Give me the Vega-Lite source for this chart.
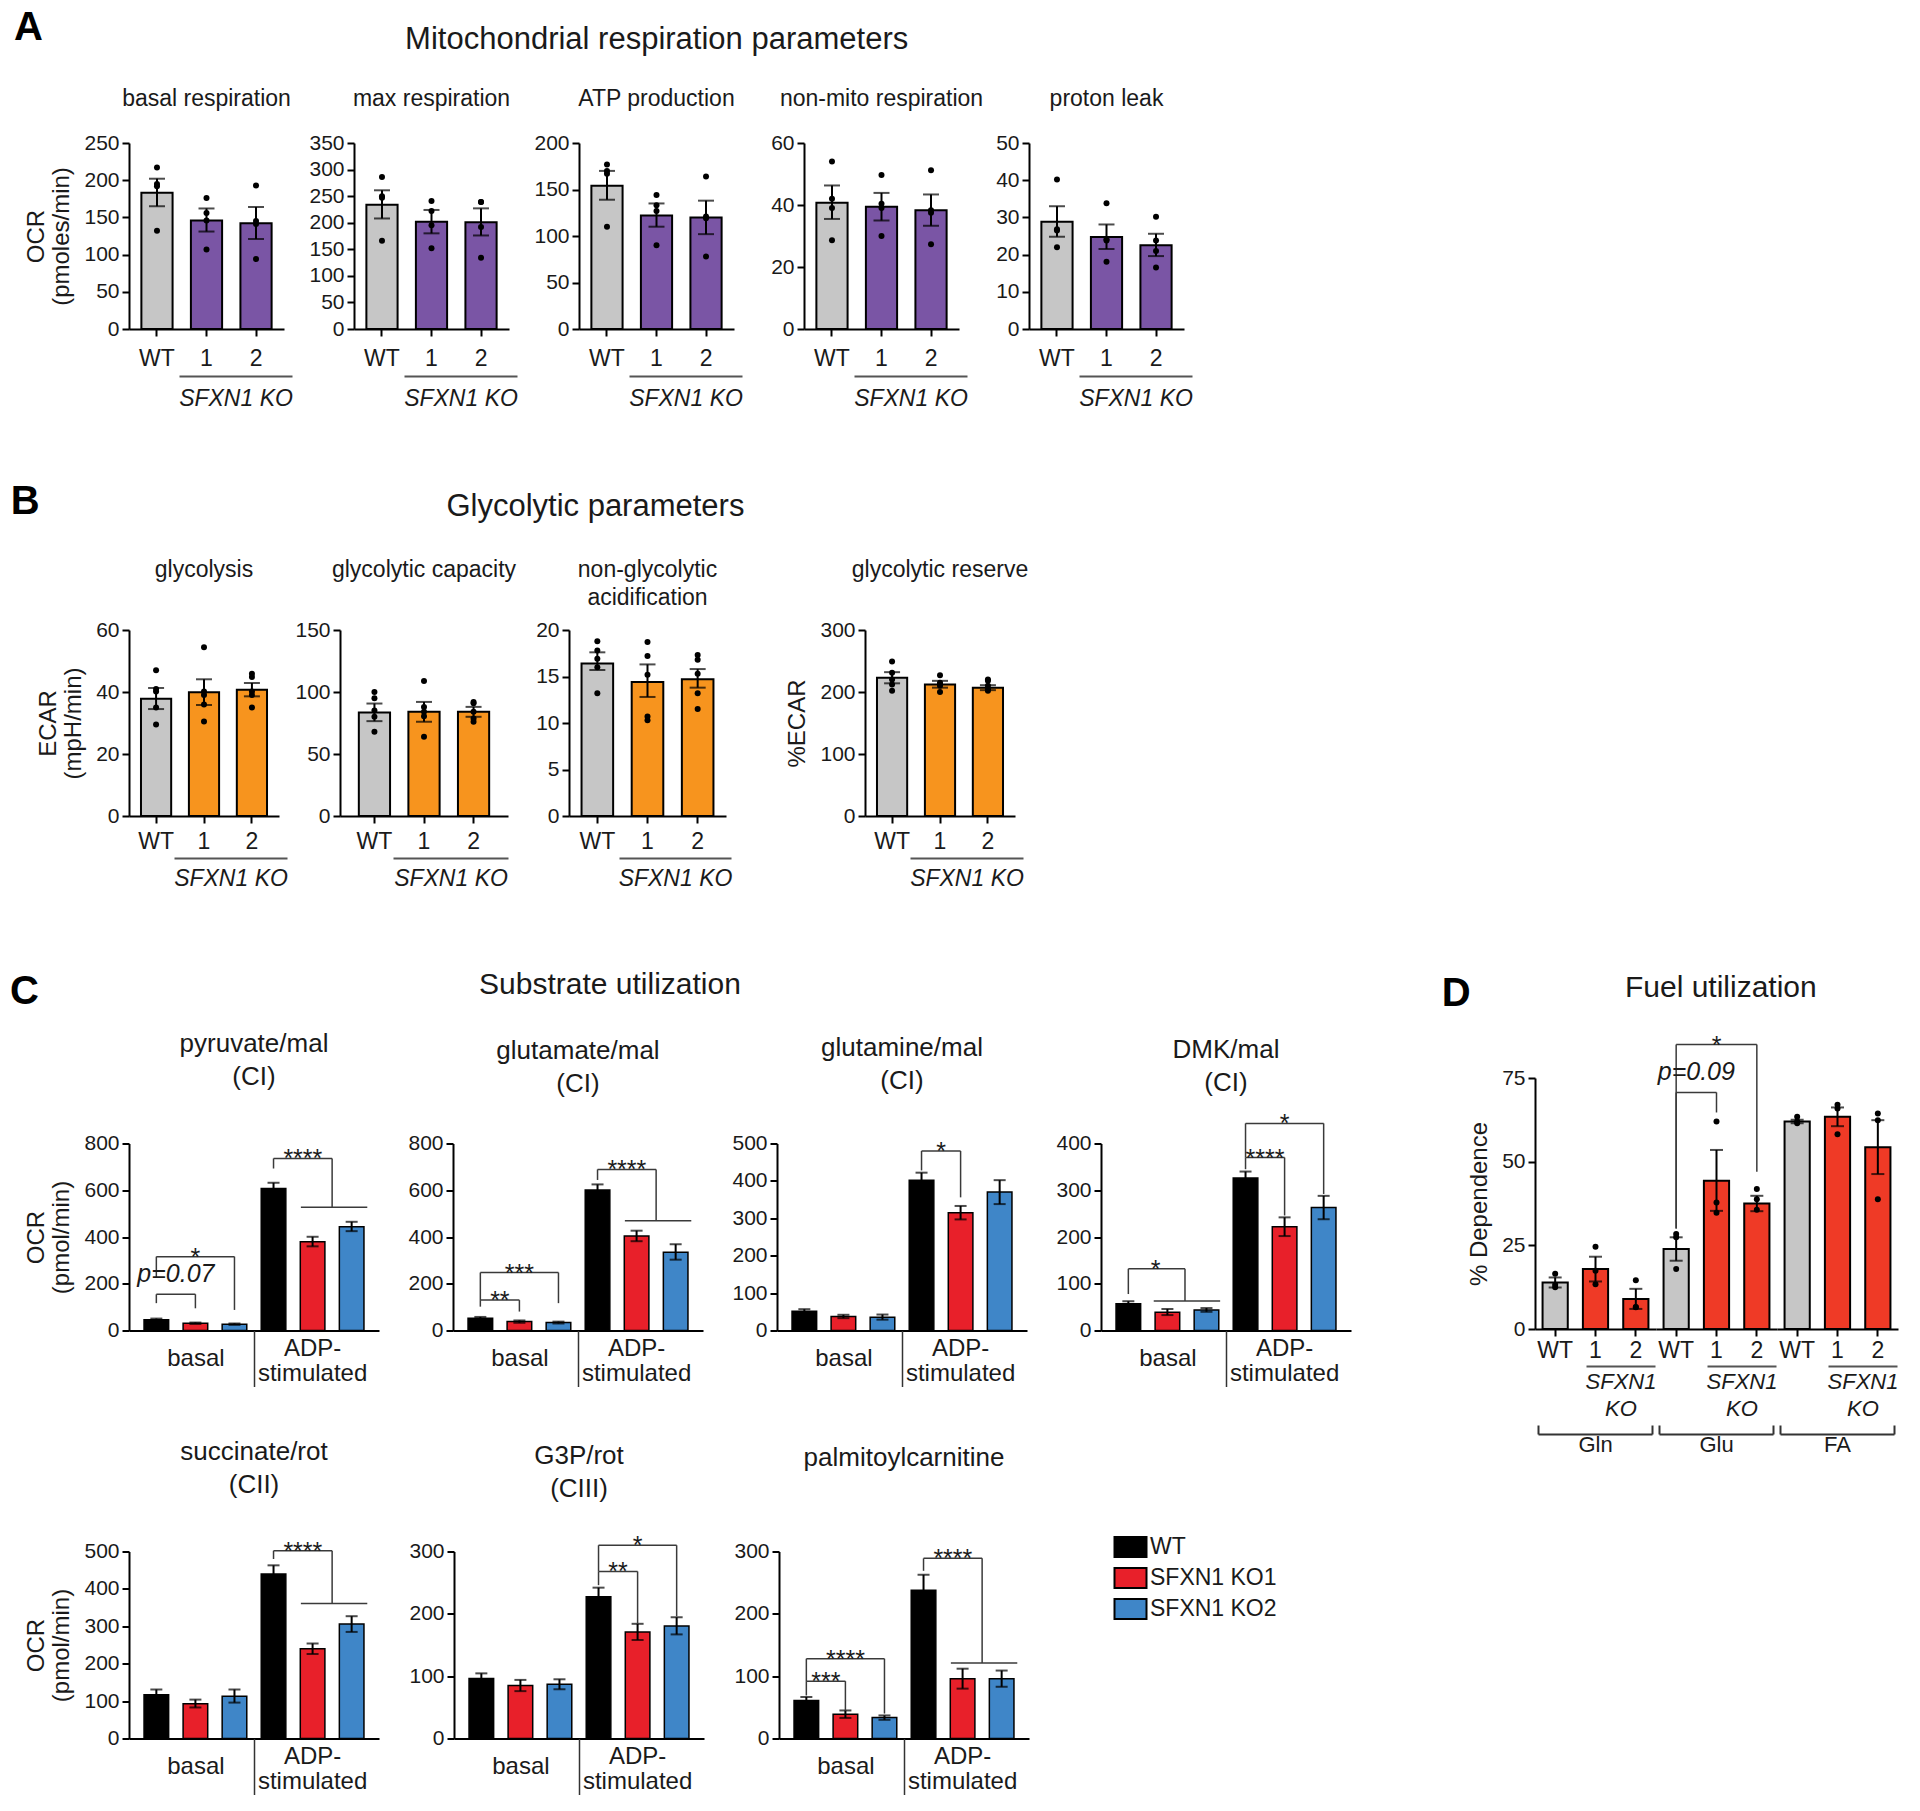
{
"$schema": "https://vega.github.io/schema/vega-lite/v6.json",
"background": "white",
"padding": {"left": 9, "top": 8, "right": 5, "bottom": 5},
"datasets": {
"bars": [
{"p":"A1","g":"WT","m":183,"lo":165,"hi":202},{"p":"A1","g":"1","m":146,"lo":131,"hi":162},{"p":"A1","g":"2","m":142,"lo":121,"hi":164},
{"p":"A2","g":"WT","m":234,"lo":208,"hi":261},{"p":"A2","g":"1","m":202,"lo":180,"hi":224},{"p":"A2","g":"2","m":201,"lo":176,"hi":227},
{"p":"A3","g":"WT","m":154,"lo":139,"hi":170},{"p":"A3","g":"1","m":122,"lo":110,"hi":135},{"p":"A3","g":"2","m":120,"lo":102,"hi":138},
{"p":"A4","g":"WT","m":40.7,"lo":35.5,"hi":46.3},{"p":"A4","g":"1","m":39.4,"lo":35,"hi":43.9},{"p":"A4","g":"2","m":38.3,"lo":33.3,"hi":43.4},
{"p":"A5","g":"WT","m":28.8,"lo":24.8,"hi":33},{"p":"A5","g":"1","m":24.7,"lo":21.5,"hi":28.1},{"p":"A5","g":"2","m":22.5,"lo":19.6,"hi":25.6},
{"p":"B1","g":"WT","m":37.8,"lo":34.5,"hi":41.3},{"p":"B1","g":"1","m":39.9,"lo":35.8,"hi":44.1},{"p":"B1","g":"2","m":40.7,"lo":38.6,"hi":42.9},
{"p":"B2","g":"WT","m":83.5,"lo":76.5,"hi":90.7},{"p":"B2","g":"1","m":84,"lo":76,"hi":92},{"p":"B2","g":"2","m":84,"lo":80,"hi":88},
{"p":"B3","g":"WT","m":16.4,"lo":15.7,"hi":17.6},{"p":"B3","g":"1","m":14.4,"lo":12.8,"hi":16.3},{"p":"B3","g":"2","m":14.7,"lo":13.8,"hi":15.8},
{"p":"B4","g":"WT","m":223,"lo":214,"hi":232},{"p":"B4","g":"1","m":212,"lo":207,"hi":218},{"p":"B4","g":"2","m":207,"lo":203,"hi":211},
{"p":"Gln","g":"WT","m":13.9,"lo":12.4,"hi":15.4},{"p":"Gln","g":"1","m":17.9,"lo":14.2,"hi":21.6},{"p":"Gln","g":"2","m":9,"lo":6,"hi":12},
{"p":"Glu","g":"WT","m":23.9,"lo":20.4,"hi":27.4},{"p":"Glu","g":"1","m":44.3,"lo":35.3,"hi":53.5},{"p":"Glu","g":"2","m":37.5,"lo":35.2,"hi":39.8},
{"p":"FA","g":"WT","m":62,"lo":61.5,"hi":62.5},{"p":"FA","g":"1","m":63.4,"lo":60.6,"hi":66.2},{"p":"FA","g":"2","m":54.3,"lo":46.3,"hi":62.4}
],
"pts": [
{"p":"A1","g":"WT","v":217},{"p":"A1","g":"WT","v":195},{"p":"A1","g":"WT","v":192},{"p":"A1","g":"WT","v":132},
{"p":"A1","g":"1","v":176},{"p":"A1","g":"1","v":156},{"p":"A1","g":"1","v":146},{"p":"A1","g":"1","v":107},
{"p":"A1","g":"2","v":193},{"p":"A1","g":"2","v":145},{"p":"A1","g":"2","v":141},{"p":"A1","g":"2","v":94},
{"p":"A2","g":"WT","v":286},{"p":"A2","g":"WT","v":250},{"p":"A2","g":"WT","v":247},{"p":"A2","g":"WT","v":166},
{"p":"A2","g":"1","v":241},{"p":"A2","g":"1","v":222},{"p":"A2","g":"1","v":195},{"p":"A2","g":"1","v":152},
{"p":"A2","g":"2","v":239},{"p":"A2","g":"2","v":239},{"p":"A2","g":"2","v":192},{"p":"A2","g":"2","v":134},
{"p":"A3","g":"WT","v":177},{"p":"A3","g":"WT","v":170},{"p":"A3","g":"WT","v":167},{"p":"A3","g":"WT","v":110},
{"p":"A3","g":"1","v":144},{"p":"A3","g":"1","v":133},{"p":"A3","g":"1","v":127},{"p":"A3","g":"1","v":90},
{"p":"A3","g":"2","v":164},{"p":"A3","g":"2","v":121},{"p":"A3","g":"2","v":119},{"p":"A3","g":"2","v":78},
{"p":"A4","g":"WT","v":54},{"p":"A4","g":"WT","v":42},{"p":"A4","g":"WT","v":39},{"p":"A4","g":"WT","v":28.6},
{"p":"A4","g":"1","v":49.7},{"p":"A4","g":"1","v":40.4},{"p":"A4","g":"1","v":39},{"p":"A4","g":"1","v":30},
{"p":"A4","g":"2","v":51.2},{"p":"A4","g":"2","v":38.3},{"p":"A4","g":"2","v":37.5},{"p":"A4","g":"2","v":27.3},
{"p":"A5","g":"WT","v":40.2},{"p":"A5","g":"WT","v":26.8},{"p":"A5","g":"WT","v":26.5},{"p":"A5","g":"WT","v":22},
{"p":"A5","g":"1","v":33.8},{"p":"A5","g":"1","v":24.1},{"p":"A5","g":"1","v":23.8},{"p":"A5","g":"1","v":18.1},
{"p":"A5","g":"2","v":30.2},{"p":"A5","g":"2","v":23.8},{"p":"A5","g":"2","v":21},{"p":"A5","g":"2","v":16.5},
{"p":"B1","g":"WT","v":47},{"p":"B1","g":"WT","v":41},{"p":"B1","g":"WT","v":40.2},{"p":"B1","g":"WT","v":35},{"p":"B1","g":"WT","v":29.5},
{"p":"B1","g":"1","v":54.4},{"p":"B1","g":"1","v":40.2},{"p":"B1","g":"1","v":39},{"p":"B1","g":"1","v":36},{"p":"B1","g":"1","v":30.5},
{"p":"B1","g":"2","v":45.9},{"p":"B1","g":"2","v":44.8},{"p":"B1","g":"2","v":40.2},{"p":"B1","g":"2","v":39},{"p":"B1","g":"2","v":35},
{"p":"B2","g":"WT","v":100},{"p":"B2","g":"WT","v":95},{"p":"B2","g":"WT","v":85},{"p":"B2","g":"WT","v":80},{"p":"B2","g":"WT","v":68},
{"p":"B2","g":"1","v":108.8},{"p":"B2","g":"1","v":88},{"p":"B2","g":"1","v":84},{"p":"B2","g":"1","v":80.5},{"p":"B2","g":"1","v":64},
{"p":"B2","g":"2","v":92},{"p":"B2","g":"2","v":91},{"p":"B2","g":"2","v":84},{"p":"B2","g":"2","v":78.7},{"p":"B2","g":"2","v":76},
{"p":"B3","g":"WT","v":18.8},{"p":"B3","g":"WT","v":17.8},{"p":"B3","g":"WT","v":16.9},{"p":"B3","g":"WT","v":16},{"p":"B3","g":"WT","v":13.2},
{"p":"B3","g":"1","v":18.7},{"p":"B3","g":"1","v":17.2},{"p":"B3","g":"1","v":15.2},{"p":"B3","g":"1","v":10.7},{"p":"B3","g":"1","v":10.3},
{"p":"B3","g":"2","v":17.3},{"p":"B3","g":"2","v":16.8},{"p":"B3","g":"2","v":15.3},{"p":"B3","g":"2","v":13.2},{"p":"B3","g":"2","v":11.5},
{"p":"B4","g":"WT","v":249},{"p":"B4","g":"WT","v":231},{"p":"B4","g":"WT","v":220},{"p":"B4","g":"WT","v":212},{"p":"B4","g":"WT","v":202},
{"p":"B4","g":"1","v":227},{"p":"B4","g":"1","v":215},{"p":"B4","g":"1","v":212},{"p":"B4","g":"1","v":210},{"p":"B4","g":"1","v":200},
{"p":"B4","g":"2","v":220},{"p":"B4","g":"2","v":218},{"p":"B4","g":"2","v":210},{"p":"B4","g":"2","v":204},{"p":"B4","g":"2","v":202},
{"p":"Gln","g":"WT","v":16.5},{"p":"Gln","g":"WT","v":13.2},{"p":"Gln","g":"WT","v":12.5},
{"p":"Gln","g":"1","v":24.6},{"p":"Gln","g":"1","v":17.4},{"p":"Gln","g":"1","v":13.4},
{"p":"Gln","g":"2","v":14.6},{"p":"Gln","g":"2","v":6.5},{"p":"Gln","g":"2","v":6.6},
{"p":"Glu","g":"WT","v":28.4},{"p":"Glu","g":"WT","v":27.4},{"p":"Glu","g":"WT","v":17.9},
{"p":"Glu","g":"1","v":62},{"p":"Glu","g":"1","v":37.8},{"p":"Glu","g":"1","v":34.7},
{"p":"Glu","g":"2","v":41.8},{"p":"Glu","g":"2","v":38.8},{"p":"Glu","g":"2","v":35.6},
{"p":"FA","g":"WT","v":63.4},{"p":"FA","g":"WT","v":62},{"p":"FA","g":"WT","v":61.5},
{"p":"FA","g":"1","v":67},{"p":"FA","g":"1","v":65.9},{"p":"FA","g":"1","v":58.2},
{"p":"FA","g":"2","v":64.4},{"p":"FA","g":"2","v":62.4},{"p":"FA","g":"2","v":38.8}
],
"cbars": [
{"p":"C1","c":"basal","g":"WT","m":45.5,"lo":41,"hi":51},{"p":"C1","c":"basal","g":"SFXN1 KO1","m":31,"lo":28,"hi":34},{"p":"C1","c":"basal","g":"SFXN1 KO2","m":27,"lo":24,"hi":30},
{"p":"C1","c":"ADP","g":"WT","m":608,"lo":585,"hi":632},{"p":"C1","c":"ADP","g":"SFXN1 KO1","m":380,"lo":360,"hi":401},{"p":"C1","c":"ADP","g":"SFXN1 KO2","m":444,"lo":425,"hi":465},
{"p":"C2","c":"basal","g":"WT","m":52.7,"lo":47,"hi":58},{"p":"C2","c":"basal","g":"SFXN1 KO1","m":38,"lo":33,"hi":43},{"p":"C2","c":"basal","g":"SFXN1 KO2","m":34,"lo":30,"hi":38},
{"p":"C2","c":"ADP","g":"WT","m":601,"lo":577,"hi":625},{"p":"C2","c":"ADP","g":"SFXN1 KO1","m":404,"lo":382,"hi":427},{"p":"C2","c":"ADP","g":"SFXN1 KO2","m":335,"lo":303,"hi":369},
{"p":"C3","c":"basal","g":"WT","m":51.6,"lo":46,"hi":57},{"p":"C3","c":"basal","g":"SFXN1 KO1","m":37.4,"lo":33,"hi":42},{"p":"C3","c":"basal","g":"SFXN1 KO2","m":35.6,"lo":29,"hi":42.7},
{"p":"C3","c":"ADP","g":"WT","m":402,"lo":382,"hi":422},{"p":"C3","c":"ADP","g":"SFXN1 KO1","m":315,"lo":297,"hi":333},{"p":"C3","c":"ADP","g":"SFXN1 KO2","m":370,"lo":338,"hi":402},
{"p":"C4","c":"basal","g":"WT","m":57,"lo":52,"hi":62.6},{"p":"C4","c":"basal","g":"SFXN1 KO1","m":39,"lo":33,"hi":46},{"p":"C4","c":"basal","g":"SFXN1 KO2","m":44,"lo":40,"hi":48},
{"p":"C4","c":"ADP","g":"WT","m":326,"lo":312,"hi":340},{"p":"C4","c":"ADP","g":"SFXN1 KO1","m":222,"lo":202,"hi":242},{"p":"C4","c":"ADP","g":"SFXN1 KO2","m":263,"lo":238,"hi":288},
{"p":"C5","c":"basal","g":"WT","m":117,"lo":104,"hi":131},{"p":"C5","c":"basal","g":"SFXN1 KO1","m":93,"lo":83,"hi":104},{"p":"C5","c":"basal","g":"SFXN1 KO2","m":113,"lo":96,"hi":131},
{"p":"C5","c":"ADP","g":"WT","m":440,"lo":417,"hi":463},{"p":"C5","c":"ADP","g":"SFXN1 KO1","m":240,"lo":226,"hi":254},{"p":"C5","c":"ADP","g":"SFXN1 KO2","m":306,"lo":285,"hi":327},
{"p":"C6","c":"basal","g":"WT","m":96.4,"lo":88,"hi":104.5},{"p":"C6","c":"basal","g":"SFXN1 KO1","m":85,"lo":76,"hi":94},{"p":"C6","c":"basal","g":"SFXN1 KO2","m":87,"lo":79,"hi":95},
{"p":"C6","c":"ADP","g":"WT","m":227.6,"lo":213,"hi":242},{"p":"C6","c":"ADP","g":"SFXN1 KO1","m":171,"lo":158,"hi":184},{"p":"C6","c":"ADP","g":"SFXN1 KO2","m":180.5,"lo":167,"hi":194.5},
{"p":"C7","c":"basal","g":"WT","m":61,"lo":56,"hi":66.6},{"p":"C7","c":"basal","g":"SFXN1 KO1","m":39,"lo":33,"hi":45},{"p":"C7","c":"basal","g":"SFXN1 KO2","m":33.6,"lo":30,"hi":37},
{"p":"C7","c":"ADP","g":"WT","m":238,"lo":214,"hi":262.7},{"p":"C7","c":"ADP","g":"SFXN1 KO1","m":96,"lo":80,"hi":112},{"p":"C7","c":"ADP","g":"SFXN1 KO2","m":96,"lo":83,"hi":109}
],
"brk": [
{"p":"C1","x1":3.5,"x2":5.0,"xm":4.25,"top":736,"lo1":693,"lo2":527,"lab":"****"},
{"p":"C1","x1":0.5,"x2":2.5,"xm":1.5,"top":316,"lo1":228,"lo2":88,"lab":"*"},
{"p":"C1","x1":0.5,"x2":1.5,"xm":1.0,"top":155,"lo1":117,"lo2":95,"lab":"p=0.07"},
{"p":"C2","x1":3.5,"x2":5.0,"xm":4.25,"top":689,"lo1":644,"lo2":470,"lab":"****"},
{"p":"C2","x1":0.5,"x2":2.5,"xm":1.5,"top":248,"lo1":130,"lo2":117,"lab":"***"},
{"p":"C2","x1":0.5,"x2":1.5,"xm":1.0,"top":130,"lo1":102,"lo2":81,"lab":"**"},
{"p":"C3","x1":3.5,"x2":4.5,"xm":4.0,"top":480,"lo1":428,"lo2":356,"lab":"*"},
{"p":"C4","x1":3.5,"x2":5.5,"xm":4.5,"top":443,"lo1":370,"lo2":292,"lab":"*"},
{"p":"C4","x1":3.5,"x2":4.5,"xm":4.0,"top":370,"lo1":345,"lo2":246,"lab":"****"},
{"p":"C4","x1":0.5,"x2":1.95,"xm":1.2,"top":132,"lo1":78,"lo2":63,"lab":"*"},
{"p":"C5","x1":3.5,"x2":5.0,"xm":4.25,"top":502,"lo1":480,"lo2":361,"lab":"****"},
{"p":"C6","x1":3.5,"x2":5.5,"xm":4.5,"top":310,"lo1":268,"lo2":196,"lab":"*"},
{"p":"C6","x1":3.5,"x2":4.5,"xm":4.0,"top":268,"lo1":246,"lo2":185,"lab":"**"},
{"p":"C7","x1":3.5,"x2":5.0,"xm":4.25,"top":289,"lo1":269,"lo2":121,"lab":"****"},
{"p":"C7","x1":0.5,"x2":2.5,"xm":1.5,"top":128,"lo1":92,"lo2":40,"lab":"****"},
{"p":"C7","x1":0.5,"x2":1.5,"xm":1.0,"top":92,"lo1":69,"lo2":45,"lab":"***"},
{"p":"Glu","x1":0.5,"x2":2.5,"xm":1.5,"top":85,"lo1":30,"lo2":47,"lab":"*"},
{"p":"Glu","x1":0.5,"x2":1.5,"xm":1.0,"top":70.7,"lo1":30,"lo2":64.7,"lab":"p=0.09"}
],
"gl": [
{"p":"C1","x1":4.2,"x2":5.9,"y":527},
{"p":"C2","x1":4.2,"x2":5.9,"y":470},
{"p":"C4","x1":1.15,"x2":2.85,"y":63},
{"p":"C5","x1":4.2,"x2":5.9,"y":361},
{"p":"C7","x1":4.2,"x2":5.9,"y":121}
],
"ko": [{"k":"SFXN1 KO"}],
"fuel": [{"f":"Gln"},{"f":"Glu"},{"f":"FA"}]
},
"spacing": 90,
"hconcat": [
{"spacing": 79.5, "vconcat": [
{"spacing": 72, "vconcat": [
{
"title": {"text":"A","anchor":"start","frame":"bounds","fontSize":40,"fontWeight":"bold","color":"#000","offset":-24.5,"dx":-11},
"vconcat": [{
"title": {"text":"Mitochondrial respiration parameters","anchor":"middle","frame":"bounds","fontSize":31,"offset":32,"dx":48},
"bounds": "flush", "spacing": 70,
"hconcat": [
{"width":155,"height":186,"title":{"text":"basal respiration","offset":21.5},"resolve":{"scale":{"x":"independent"}},"layer":[
 {"encoding":{"x":{"field":"g","type":"nominal","sort":["WT","1","2"],"scale":{"paddingInner":0.37,"paddingOuter":0.25},"axis":{"title":null,"labelPadding":11}}},
  "layer":[
   {"data":{"name":"bars"},"transform":[{"filter":"datum.p == 'A1'"}],"mark":{"type":"bar"},"encoding":{"y":{"field":"m","type":"quantitative","scale":{"domain":[0,250],"nice":false},"axis":{"values":[0,50,100,150,200,250],"title":["OCR","(pmoles/min)"]}},"fill":{"condition":{"test":"datum.g == 'WT'","value":"#c6c6c6"},"value":"#7a55a5"}}},
   {"data":{"name":"bars"},"transform":[{"filter":"datum.p == 'A1'"}],"mark":{"type":"rule","color":"#000","strokeWidth":2},"encoding":{"y":{"field":"lo","type":"quantitative","axis":{"values":[0,50,100,150,200,250],"title":["OCR","(pmoles/min)"]}},"y2":{"field":"hi"}}},
   {"data":{"name":"bars"},"transform":[{"filter":"datum.p == 'A1'"}],"mark":{"type":"tick","color":"#000","size":16,"thickness":2},"encoding":{"y":{"field":"hi","type":"quantitative","axis":{"values":[0,50,100,150,200,250],"title":["OCR","(pmoles/min)"]}}}},
   {"data":{"name":"bars"},"transform":[{"filter":"datum.p == 'A1'"}],"mark":{"type":"tick","color":"#000","size":16,"thickness":2},"encoding":{"y":{"field":"lo","type":"quantitative","axis":{"values":[0,50,100,150,200,250],"title":["OCR","(pmoles/min)"]}}}},
   {"data":{"name":"pts"},"transform":[{"filter":"datum.p == 'A1'"}],"mark":{"type":"circle","size":36,"color":"#000","opacity":1},"encoding":{"y":{"field":"v","type":"quantitative","axis":{"values":[0,50,100,150,200,250],"title":["OCR","(pmoles/min)"]}}}}
  ]},
 {"data":{"name":"ko"},"mark":{"type":"point","opacity":0,"size":1},"encoding":{"y":{"datum":0,"type":"quantitative","axis":{"values":[0,50,100,150,200,250],"title":["OCR","(pmoles/min)"]}},"x":{"field":"k","type":"nominal","scale":{"range":[50,163],"paddingInner":0,"paddingOuter":0},"axis":{"orient":"bottom","offset":47,"ticks":false,"domainColor":"#555","domainWidth":2,"labelFontStyle":"italic","labelPadding":11,"title":null}}}}
]},
{"width":155,"height":186,"title":{"text":"max respiration","offset":21.5},"resolve":{"scale":{"x":"independent"}},"layer":[
 {"encoding":{"x":{"field":"g","type":"nominal","sort":["WT","1","2"],"scale":{"paddingInner":0.37,"paddingOuter":0.25},"axis":{"title":null,"labelPadding":11}}},
  "layer":[
   {"data":{"name":"bars"},"transform":[{"filter":"datum.p == 'A2'"}],"mark":{"type":"bar"},"encoding":{"y":{"field":"m","type":"quantitative","scale":{"domain":[0,350],"nice":false},"axis":{"values":[0,50,100,150,200,250,300,350],"title":null}},"fill":{"condition":{"test":"datum.g == 'WT'","value":"#c6c6c6"},"value":"#7a55a5"}}},
   {"data":{"name":"bars"},"transform":[{"filter":"datum.p == 'A2'"}],"mark":{"type":"rule","color":"#000","strokeWidth":2},"encoding":{"y":{"field":"lo","type":"quantitative","axis":{"values":[0,50,100,150,200,250,300,350],"title":null}},"y2":{"field":"hi"}}},
   {"data":{"name":"bars"},"transform":[{"filter":"datum.p == 'A2'"}],"mark":{"type":"tick","color":"#000","size":16,"thickness":2},"encoding":{"y":{"field":"hi","type":"quantitative","axis":{"values":[0,50,100,150,200,250,300,350],"title":null}}}},
   {"data":{"name":"bars"},"transform":[{"filter":"datum.p == 'A2'"}],"mark":{"type":"tick","color":"#000","size":16,"thickness":2},"encoding":{"y":{"field":"lo","type":"quantitative","axis":{"values":[0,50,100,150,200,250,300,350],"title":null}}}},
   {"data":{"name":"pts"},"transform":[{"filter":"datum.p == 'A2'"}],"mark":{"type":"circle","size":36,"color":"#000","opacity":1},"encoding":{"y":{"field":"v","type":"quantitative","axis":{"values":[0,50,100,150,200,250,300,350],"title":null}}}}
  ]},
 {"data":{"name":"ko"},"mark":{"type":"point","opacity":0,"size":1},"encoding":{"y":{"datum":0,"type":"quantitative","axis":{"values":[0,50,100,150,200,250,300,350],"title":null}},"x":{"field":"k","type":"nominal","scale":{"range":[50,163],"paddingInner":0,"paddingOuter":0},"axis":{"orient":"bottom","offset":47,"ticks":false,"domainColor":"#555","domainWidth":2,"labelFontStyle":"italic","labelPadding":11,"title":null}}}}
]},
{"width":155,"height":186,"title":{"text":"ATP production","offset":21.5},"resolve":{"scale":{"x":"independent"}},"layer":[
 {"encoding":{"x":{"field":"g","type":"nominal","sort":["WT","1","2"],"scale":{"paddingInner":0.37,"paddingOuter":0.25},"axis":{"title":null,"labelPadding":11}}},
  "layer":[
   {"data":{"name":"bars"},"transform":[{"filter":"datum.p == 'A3'"}],"mark":{"type":"bar"},"encoding":{"y":{"field":"m","type":"quantitative","scale":{"domain":[0,200],"nice":false},"axis":{"values":[0,50,100,150,200],"title":null}},"fill":{"condition":{"test":"datum.g == 'WT'","value":"#c6c6c6"},"value":"#7a55a5"}}},
   {"data":{"name":"bars"},"transform":[{"filter":"datum.p == 'A3'"}],"mark":{"type":"rule","color":"#000","strokeWidth":2},"encoding":{"y":{"field":"lo","type":"quantitative","axis":{"values":[0,50,100,150,200],"title":null}},"y2":{"field":"hi"}}},
   {"data":{"name":"bars"},"transform":[{"filter":"datum.p == 'A3'"}],"mark":{"type":"tick","color":"#000","size":16,"thickness":2},"encoding":{"y":{"field":"hi","type":"quantitative","axis":{"values":[0,50,100,150,200],"title":null}}}},
   {"data":{"name":"bars"},"transform":[{"filter":"datum.p == 'A3'"}],"mark":{"type":"tick","color":"#000","size":16,"thickness":2},"encoding":{"y":{"field":"lo","type":"quantitative","axis":{"values":[0,50,100,150,200],"title":null}}}},
   {"data":{"name":"pts"},"transform":[{"filter":"datum.p == 'A3'"}],"mark":{"type":"circle","size":36,"color":"#000","opacity":1},"encoding":{"y":{"field":"v","type":"quantitative","axis":{"values":[0,50,100,150,200],"title":null}}}}
  ]},
 {"data":{"name":"ko"},"mark":{"type":"point","opacity":0,"size":1},"encoding":{"y":{"datum":0,"type":"quantitative","axis":{"values":[0,50,100,150,200],"title":null}},"x":{"field":"k","type":"nominal","scale":{"range":[50,163],"paddingInner":0,"paddingOuter":0},"axis":{"orient":"bottom","offset":47,"ticks":false,"domainColor":"#555","domainWidth":2,"labelFontStyle":"italic","labelPadding":11,"title":null}}}}
]},
{"width":155,"height":186,"title":{"text":"non-mito respiration","offset":21.5},"resolve":{"scale":{"x":"independent"}},"layer":[
 {"encoding":{"x":{"field":"g","type":"nominal","sort":["WT","1","2"],"scale":{"paddingInner":0.37,"paddingOuter":0.25},"axis":{"title":null,"labelPadding":11}}},
  "layer":[
   {"data":{"name":"bars"},"transform":[{"filter":"datum.p == 'A4'"}],"mark":{"type":"bar"},"encoding":{"y":{"field":"m","type":"quantitative","scale":{"domain":[0,60],"nice":false},"axis":{"values":[0,20,40,60],"title":null}},"fill":{"condition":{"test":"datum.g == 'WT'","value":"#c6c6c6"},"value":"#7a55a5"}}},
   {"data":{"name":"bars"},"transform":[{"filter":"datum.p == 'A4'"}],"mark":{"type":"rule","color":"#000","strokeWidth":2},"encoding":{"y":{"field":"lo","type":"quantitative","axis":{"values":[0,20,40,60],"title":null}},"y2":{"field":"hi"}}},
   {"data":{"name":"bars"},"transform":[{"filter":"datum.p == 'A4'"}],"mark":{"type":"tick","color":"#000","size":16,"thickness":2},"encoding":{"y":{"field":"hi","type":"quantitative","axis":{"values":[0,20,40,60],"title":null}}}},
   {"data":{"name":"bars"},"transform":[{"filter":"datum.p == 'A4'"}],"mark":{"type":"tick","color":"#000","size":16,"thickness":2},"encoding":{"y":{"field":"lo","type":"quantitative","axis":{"values":[0,20,40,60],"title":null}}}},
   {"data":{"name":"pts"},"transform":[{"filter":"datum.p == 'A4'"}],"mark":{"type":"circle","size":36,"color":"#000","opacity":1},"encoding":{"y":{"field":"v","type":"quantitative","axis":{"values":[0,20,40,60],"title":null}}}}
  ]},
 {"data":{"name":"ko"},"mark":{"type":"point","opacity":0,"size":1},"encoding":{"y":{"datum":0,"type":"quantitative","axis":{"values":[0,20,40,60],"title":null}},"x":{"field":"k","type":"nominal","scale":{"range":[50,163],"paddingInner":0,"paddingOuter":0},"axis":{"orient":"bottom","offset":47,"ticks":false,"domainColor":"#555","domainWidth":2,"labelFontStyle":"italic","labelPadding":11,"title":null}}}}
]},
{"width":155,"height":186,"title":{"text":"proton leak","offset":21.5},"resolve":{"scale":{"x":"independent"}},"layer":[
 {"encoding":{"x":{"field":"g","type":"nominal","sort":["WT","1","2"],"scale":{"paddingInner":0.37,"paddingOuter":0.25},"axis":{"title":null,"labelPadding":11}}},
  "layer":[
   {"data":{"name":"bars"},"transform":[{"filter":"datum.p == 'A5'"}],"mark":{"type":"bar"},"encoding":{"y":{"field":"m","type":"quantitative","scale":{"domain":[0,50],"nice":false},"axis":{"values":[0,10,20,30,40,50],"title":null}},"fill":{"condition":{"test":"datum.g == 'WT'","value":"#c6c6c6"},"value":"#7a55a5"}}},
   {"data":{"name":"bars"},"transform":[{"filter":"datum.p == 'A5'"}],"mark":{"type":"rule","color":"#000","strokeWidth":2},"encoding":{"y":{"field":"lo","type":"quantitative","axis":{"values":[0,10,20,30,40,50],"title":null}},"y2":{"field":"hi"}}},
   {"data":{"name":"bars"},"transform":[{"filter":"datum.p == 'A5'"}],"mark":{"type":"tick","color":"#000","size":16,"thickness":2},"encoding":{"y":{"field":"hi","type":"quantitative","axis":{"values":[0,10,20,30,40,50],"title":null}}}},
   {"data":{"name":"bars"},"transform":[{"filter":"datum.p == 'A5'"}],"mark":{"type":"tick","color":"#000","size":16,"thickness":2},"encoding":{"y":{"field":"lo","type":"quantitative","axis":{"values":[0,10,20,30,40,50],"title":null}}}},
   {"data":{"name":"pts"},"transform":[{"filter":"datum.p == 'A5'"}],"mark":{"type":"circle","size":36,"color":"#000","opacity":1},"encoding":{"y":{"field":"v","type":"quantitative","axis":{"values":[0,10,20,30,40,50],"title":null}}}}
  ]},
 {"data":{"name":"ko"},"mark":{"type":"point","opacity":0,"size":1},"encoding":{"y":{"datum":0,"type":"quantitative","axis":{"values":[0,10,20,30,40,50],"title":null}},"x":{"field":"k","type":"nominal","scale":{"range":[50,163],"paddingInner":0,"paddingOuter":0},"axis":{"orient":"bottom","offset":47,"ticks":false,"domainColor":"#555","domainWidth":2,"labelFontStyle":"italic","labelPadding":11,"title":null}}}}
]}
]
}]
},
{
"title": {"text":"B","anchor":"start","frame":"bounds","fontSize":40,"fontWeight":"bold","color":"#000","offset":-31,"dx":-26},
"vconcat": [{
"title": {"text":"Glycolytic parameters","anchor":"middle","frame":"bounds","fontSize":31,"offset":36,"dx":63},
"spacing": 53,
"hconcat": [
{"bounds":"flush","spacing":61,"hconcat":[
{"width":150,"height":186,"title":{"text":"glycolysis","offset":37},"resolve":{"scale":{"x":"independent"}},"layer":[
 {"encoding":{"x":{"field":"g","type":"nominal","sort":["WT","1","2"],"scale":{"paddingInner":0.37,"paddingOuter":0.25},"axis":{"title":null,"labelPadding":7}}},
  "layer":[
   {"data":{"name":"bars"},"transform":[{"filter":"datum.p == 'B1'"}],"mark":{"type":"bar"},"encoding":{"y":{"field":"m","type":"quantitative","scale":{"domain":[0,60],"nice":false},"axis":{"values":[0,20,40,60],"title":["ECAR","(mpH/min)"]}},"fill":{"condition":{"test":"datum.g == 'WT'","value":"#c6c6c6"},"value":"#f7941e"}}},
   {"data":{"name":"bars"},"transform":[{"filter":"datum.p == 'B1'"}],"mark":{"type":"rule","color":"#000","strokeWidth":2},"encoding":{"y":{"field":"lo","type":"quantitative","axis":{"values":[0,20,40,60],"title":["ECAR","(mpH/min)"]}},"y2":{"field":"hi"}}},
   {"data":{"name":"bars"},"transform":[{"filter":"datum.p == 'B1'"}],"mark":{"type":"tick","color":"#000","size":16,"thickness":2},"encoding":{"y":{"field":"hi","type":"quantitative","axis":{"values":[0,20,40,60],"title":["ECAR","(mpH/min)"]}}}},
   {"data":{"name":"bars"},"transform":[{"filter":"datum.p == 'B1'"}],"mark":{"type":"tick","color":"#000","size":16,"thickness":2},"encoding":{"y":{"field":"lo","type":"quantitative","axis":{"values":[0,20,40,60],"title":["ECAR","(mpH/min)"]}}}},
   {"data":{"name":"pts"},"transform":[{"filter":"datum.p == 'B1'"}],"mark":{"type":"circle","size":36,"color":"#000","opacity":1},"encoding":{"y":{"field":"v","type":"quantitative","axis":{"values":[0,20,40,60],"title":["ECAR","(mpH/min)"]}}}}
  ]},
 {"data":{"name":"ko"},"mark":{"type":"point","opacity":0,"size":1},"encoding":{"y":{"datum":0,"type":"quantitative","axis":{"values":[0,20,40,60],"title":["ECAR","(mpH/min)"]}},"x":{"field":"k","type":"nominal","scale":{"range":[45,158],"paddingInner":0,"paddingOuter":0},"axis":{"orient":"bottom","offset":42,"ticks":false,"domainColor":"#555","domainWidth":2,"labelFontStyle":"italic","labelPadding":9,"title":null}}}}
]},
{"width":168,"height":186,"title":{"text":"glycolytic capacity","offset":37},"resolve":{"scale":{"x":"independent"}},"layer":[
 {"encoding":{"x":{"field":"g","type":"nominal","sort":["WT","1","2"],"scale":{"paddingInner":0.37,"paddingOuter":0.38},"axis":{"title":null,"labelPadding":7}}},
  "layer":[
   {"data":{"name":"bars"},"transform":[{"filter":"datum.p == 'B2'"}],"mark":{"type":"bar"},"encoding":{"y":{"field":"m","type":"quantitative","scale":{"domain":[0,150],"nice":false},"axis":{"values":[0,50,100,150],"title":null}},"fill":{"condition":{"test":"datum.g == 'WT'","value":"#c6c6c6"},"value":"#f7941e"}}},
   {"data":{"name":"bars"},"transform":[{"filter":"datum.p == 'B2'"}],"mark":{"type":"rule","color":"#000","strokeWidth":2},"encoding":{"y":{"field":"lo","type":"quantitative","axis":{"values":[0,50,100,150],"title":null}},"y2":{"field":"hi"}}},
   {"data":{"name":"bars"},"transform":[{"filter":"datum.p == 'B2'"}],"mark":{"type":"tick","color":"#000","size":16,"thickness":2},"encoding":{"y":{"field":"hi","type":"quantitative","axis":{"values":[0,50,100,150],"title":null}}}},
   {"data":{"name":"bars"},"transform":[{"filter":"datum.p == 'B2'"}],"mark":{"type":"tick","color":"#000","size":16,"thickness":2},"encoding":{"y":{"field":"lo","type":"quantitative","axis":{"values":[0,50,100,150],"title":null}}}},
   {"data":{"name":"pts"},"transform":[{"filter":"datum.p == 'B2'"}],"mark":{"type":"circle","size":36,"color":"#000","opacity":1},"encoding":{"y":{"field":"v","type":"quantitative","axis":{"values":[0,50,100,150],"title":null}}}}
  ]},
 {"data":{"name":"ko"},"mark":{"type":"point","opacity":0,"size":1},"encoding":{"y":{"datum":0,"type":"quantitative","axis":{"values":[0,50,100,150],"title":null}},"x":{"field":"k","type":"nominal","scale":{"range":[53,168],"paddingInner":0,"paddingOuter":0},"axis":{"orient":"bottom","offset":42,"ticks":false,"domainColor":"#555","domainWidth":2,"labelFontStyle":"italic","labelPadding":9,"title":null}}}}
]},
{"width":157,"height":186,"title":{"text":["non-glycolytic","acidification"],"offset":9,"lineHeight":28},"resolve":{"scale":{"x":"independent"}},"layer":[
 {"encoding":{"x":{"field":"g","type":"nominal","sort":["WT","1","2"],"scale":{"paddingInner":0.37,"paddingOuter":0.25},"axis":{"title":null,"labelPadding":7}}},
  "layer":[
   {"data":{"name":"bars"},"transform":[{"filter":"datum.p == 'B3'"}],"mark":{"type":"bar"},"encoding":{"y":{"field":"m","type":"quantitative","scale":{"domain":[0,20],"nice":false},"axis":{"values":[0,5,10,15,20],"title":null}},"fill":{"condition":{"test":"datum.g == 'WT'","value":"#c6c6c6"},"value":"#f7941e"}}},
   {"data":{"name":"bars"},"transform":[{"filter":"datum.p == 'B3'"}],"mark":{"type":"rule","color":"#000","strokeWidth":2},"encoding":{"y":{"field":"lo","type":"quantitative","axis":{"values":[0,5,10,15,20],"title":null}},"y2":{"field":"hi"}}},
   {"data":{"name":"bars"},"transform":[{"filter":"datum.p == 'B3'"}],"mark":{"type":"tick","color":"#000","size":16,"thickness":2},"encoding":{"y":{"field":"hi","type":"quantitative","axis":{"values":[0,5,10,15,20],"title":null}}}},
   {"data":{"name":"bars"},"transform":[{"filter":"datum.p == 'B3'"}],"mark":{"type":"tick","color":"#000","size":16,"thickness":2},"encoding":{"y":{"field":"lo","type":"quantitative","axis":{"values":[0,5,10,15,20],"title":null}}}},
   {"data":{"name":"pts"},"transform":[{"filter":"datum.p == 'B3'"}],"mark":{"type":"circle","size":36,"color":"#000","opacity":1},"encoding":{"y":{"field":"v","type":"quantitative","axis":{"values":[0,5,10,15,20],"title":null}}}}
  ]},
 {"data":{"name":"ko"},"mark":{"type":"point","opacity":0,"size":1},"encoding":{"y":{"datum":0,"type":"quantitative","axis":{"values":[0,5,10,15,20],"title":null}},"x":{"field":"k","type":"nominal","scale":{"range":[50,162],"paddingInner":0,"paddingOuter":0},"axis":{"orient":"bottom","offset":42,"ticks":false,"domainColor":"#555","domainWidth":2,"labelFontStyle":"italic","labelPadding":9,"title":null}}}}
]}
]},
{"width":150,"height":186,"title":{"text":"glycolytic reserve","offset":37},"resolve":{"scale":{"x":"independent"}},"layer":[
 {"encoding":{"x":{"field":"g","type":"nominal","sort":["WT","1","2"],"scale":{"paddingInner":0.37,"paddingOuter":0.25},"axis":{"title":null,"labelPadding":7}}},
  "layer":[
   {"data":{"name":"bars"},"transform":[{"filter":"datum.p == 'B4'"}],"mark":{"type":"bar"},"encoding":{"y":{"field":"m","type":"quantitative","scale":{"domain":[0,300],"nice":false},"axis":{"values":[0,100,200,300],"title":"%ECAR"}},"fill":{"condition":{"test":"datum.g == 'WT'","value":"#c6c6c6"},"value":"#f7941e"}}},
   {"data":{"name":"bars"},"transform":[{"filter":"datum.p == 'B4'"}],"mark":{"type":"rule","color":"#000","strokeWidth":2},"encoding":{"y":{"field":"lo","type":"quantitative","axis":{"values":[0,100,200,300],"title":"%ECAR"}},"y2":{"field":"hi"}}},
   {"data":{"name":"bars"},"transform":[{"filter":"datum.p == 'B4'"}],"mark":{"type":"tick","color":"#000","size":16,"thickness":2},"encoding":{"y":{"field":"hi","type":"quantitative","axis":{"values":[0,100,200,300],"title":"%ECAR"}}}},
   {"data":{"name":"bars"},"transform":[{"filter":"datum.p == 'B4'"}],"mark":{"type":"tick","color":"#000","size":16,"thickness":2},"encoding":{"y":{"field":"lo","type":"quantitative","axis":{"values":[0,100,200,300],"title":"%ECAR"}}}},
   {"data":{"name":"pts"},"transform":[{"filter":"datum.p == 'B4'"}],"mark":{"type":"circle","size":36,"color":"#000","opacity":1},"encoding":{"y":{"field":"v","type":"quantitative","axis":{"values":[0,100,200,300],"title":"%ECAR"}}}}
  ]},
 {"data":{"name":"ko"},"mark":{"type":"point","opacity":0,"size":1},"encoding":{"y":{"datum":0,"type":"quantitative","axis":{"values":[0,100,200,300],"title":"%ECAR"}},"x":{"field":"k","type":"nominal","scale":{"range":[45,158],"paddingInner":0,"paddingOuter":0},"axis":{"orient":"bottom","offset":42,"ticks":false,"domainColor":"#555","domainWidth":2,"labelFontStyle":"italic","labelPadding":9,"title":null}}}}
]}
]
}]
}
]},
{
"title": {"text":"C","anchor":"start","frame":"bounds","fontSize":40,"fontWeight":"bold","color":"#000","offset":-41.5,"dx":-15},
"vconcat": [{
"title": {"text":"Substrate utilization","anchor":"middle","frame":"bounds","fontSize":30,"offset":30.5,"dx":-78},
"spacing": 51,
"vconcat": [
{"bounds":"flush","spacing":74,"hconcat":[
{"width":250,"height":187,"title":{"text":["pyruvate/mal","(CI)"],"offset":43,"fontSize":26,"lineHeight":33},"resolve":{"scale":{"x":"independent"}},"layer":[
 {"data":{"name":"cbars"},"transform":[{"filter":"datum.p == 'C1'"}],
  "encoding":{"x":{"field":"c","type":"nominal","sort":["basal","ADP"],"scale":{"paddingInner":0,"paddingOuter":0.0667},"axis":{"title":null,"ticks":false,"labelExpr":"datum.value == 'ADP' ? ['ADP-', 'stimulated'] : ''","labelBaseline":"middle","labelPadding":18,"labelLineHeight":25,"labelFontSize":24}},
   "xOffset":{"field":"g","type":"nominal","sort":["WT","SFXN1 KO1","SFXN1 KO2"],"scale":{"paddingInner":0.37,"paddingOuter":0.185}}},
  "layer":[
   {"mark":{"type":"bar","strokeWidth":1.5},"encoding":{"y":{"field":"m","type":"quantitative","scale":{"domain":[0,800],"nice":false},"axis":{"values":[0,200,400,600,800],"title":["OCR","(pmol/min)"]}},"color":{"field":"g","type":"nominal","scale":{"domain":["WT","SFXN1 KO1","SFXN1 KO2"],"range":["#000000","#e8202a","#3f86c8"]},"legend":null}}},
   {"mark":{"type":"rule","color":"#000","strokeWidth":2},"encoding":{"y":{"field":"lo","type":"quantitative","axis":{"values":[0,200,400,600,800],"title":["OCR","(pmol/min)"]}},"y2":{"field":"hi"}}},
   {"mark":{"type":"tick","color":"#000","size":12,"thickness":2},"encoding":{"y":{"field":"hi","type":"quantitative","axis":{"values":[0,200,400,600,800],"title":["OCR","(pmol/min)"]}}}},
   {"mark":{"type":"tick","color":"#000","size":12,"thickness":2},"encoding":{"y":{"field":"lo","type":"quantitative","axis":{"values":[0,200,400,600,800],"title":["OCR","(pmol/min)"]}}}}
  ]},
 {"data":{"name":"brk"},"transform":[{"filter":"datum.p == 'C1'"}],"layer":[
   {"mark":{"type":"rule","color":"#3a3a3a","strokeWidth":1.5},"encoding":{"x":{"field":"x1","type":"quantitative","scale":{"domain":[-0.2,6.2],"nice":false,"zero":false},"axis":{"orient":"bottom","values":[1.5,3],"domain":false,"tickSize":56,"tickWidth":1.5,"tickColor":"#333","tickOpacity":{"condition":{"test":"datum.value == 3","value":1},"value":0},"labelExpr":"datum.value == 1.5 ? 'basal' : ''","labelBaseline":"middle","labelPadding":-28,"labelFontSize":24,"labelFlush":false,"labelOverlap":false,"title":null}},"y":{"field":"lo1","type":"quantitative","axis":{"values":[0,200,400,600,800],"title":["OCR","(pmol/min)"]}},"y2":{"field":"top"}}},
   {"mark":{"type":"rule","color":"#3a3a3a","strokeWidth":1.5},"encoding":{"x":{"field":"x2","type":"quantitative","axis":{"orient":"bottom","values":[1.5,3],"domain":false,"tickSize":56,"tickWidth":1.5,"tickColor":"#333","tickOpacity":{"condition":{"test":"datum.value == 3","value":1},"value":0},"labelExpr":"datum.value == 1.5 ? 'basal' : ''","labelBaseline":"middle","labelPadding":-28,"labelFontSize":24,"labelFlush":false,"labelOverlap":false,"title":null}},"y":{"field":"lo2","type":"quantitative","axis":{"values":[0,200,400,600,800],"title":["OCR","(pmol/min)"]}},"y2":{"field":"top"}}},
   {"mark":{"type":"rule","color":"#3a3a3a","strokeWidth":1.5},"encoding":{"x":{"field":"x1","type":"quantitative","axis":{"orient":"bottom","values":[1.5,3],"domain":false,"tickSize":56,"tickWidth":1.5,"tickColor":"#333","tickOpacity":{"condition":{"test":"datum.value == 3","value":1},"value":0},"labelExpr":"datum.value == 1.5 ? 'basal' : ''","labelBaseline":"middle","labelPadding":-28,"labelFontSize":24,"labelFlush":false,"labelOverlap":false,"title":null}},"x2":{"field":"x2"},"y":{"field":"top","type":"quantitative","axis":{"values":[0,200,400,600,800],"title":["OCR","(pmol/min)"]}}}},
   {"transform":[{"filter":"indexof(datum.lab, '=') < 0"}],"mark":{"type":"text","fontSize":25,"baseline":"alphabetic","dy":9,"color":"#1a1a1a"},"encoding":{"x":{"field":"xm","type":"quantitative","axis":{"orient":"bottom","values":[1.5,3],"domain":false,"tickSize":56,"tickWidth":1.5,"tickColor":"#333","tickOpacity":{"condition":{"test":"datum.value == 3","value":1},"value":0},"labelExpr":"datum.value == 1.5 ? 'basal' : ''","labelBaseline":"middle","labelPadding":-28,"labelFontSize":24,"labelFlush":false,"labelOverlap":false,"title":null}},"y":{"field":"top","type":"quantitative","axis":{"values":[0,200,400,600,800],"title":["OCR","(pmol/min)"]}},"text":{"field":"lab","type":"nominal"}}},
   {"transform":[{"filter":"indexof(datum.lab, '=') >= 0"}],"mark":{"type":"text","fontSize":25,"fontStyle":"italic","baseline":"alphabetic","dy":-12,"color":"#1a1a1a"},"encoding":{"x":{"field":"xm","type":"quantitative","axis":{"orient":"bottom","values":[1.5,3],"domain":false,"tickSize":56,"tickWidth":1.5,"tickColor":"#333","tickOpacity":{"condition":{"test":"datum.value == 3","value":1},"value":0},"labelExpr":"datum.value == 1.5 ? 'basal' : ''","labelBaseline":"middle","labelPadding":-28,"labelFontSize":24,"labelFlush":false,"labelOverlap":false,"title":null}},"y":{"field":"top","type":"quantitative","axis":{"values":[0,200,400,600,800],"title":["OCR","(pmol/min)"]}},"text":{"field":"lab","type":"nominal"}}},
   {"data":{"name":"gl"},"transform":[{"filter":"datum.p == 'C1'"}],"mark":{"type":"rule","color":"#3a3a3a","strokeWidth":1.5},"encoding":{"x":{"field":"x1","type":"quantitative","axis":{"orient":"bottom","values":[1.5,3],"domain":false,"tickSize":56,"tickWidth":1.5,"tickColor":"#333","tickOpacity":{"condition":{"test":"datum.value == 3","value":1},"value":0},"labelExpr":"datum.value == 1.5 ? 'basal' : ''","labelBaseline":"middle","labelPadding":-28,"labelFontSize":24,"labelFlush":false,"labelOverlap":false,"title":null}},"x2":{"field":"x2"},"y":{"field":"y","type":"quantitative","axis":{"values":[0,200,400,600,800],"title":["OCR","(pmol/min)"]}}}}
 ]}
]},
{"width":250,"height":187,"title":{"text":["glutamate/mal","(CI)"],"offset":36,"fontSize":26,"lineHeight":33},"resolve":{"scale":{"x":"independent"}},"layer":[
 {"data":{"name":"cbars"},"transform":[{"filter":"datum.p == 'C2'"}],
  "encoding":{"x":{"field":"c","type":"nominal","sort":["basal","ADP"],"scale":{"paddingInner":0,"paddingOuter":0.0667},"axis":{"title":null,"ticks":false,"labelExpr":"datum.value == 'ADP' ? ['ADP-', 'stimulated'] : ''","labelBaseline":"middle","labelPadding":18,"labelLineHeight":25,"labelFontSize":24}},
   "xOffset":{"field":"g","type":"nominal","sort":["WT","SFXN1 KO1","SFXN1 KO2"],"scale":{"paddingInner":0.37,"paddingOuter":0.185}}},
  "layer":[
   {"mark":{"type":"bar","strokeWidth":1.5},"encoding":{"y":{"field":"m","type":"quantitative","scale":{"domain":[0,800],"nice":false},"axis":{"values":[0,200,400,600,800],"title":null}},"color":{"field":"g","type":"nominal","scale":{"domain":["WT","SFXN1 KO1","SFXN1 KO2"],"range":["#000000","#e8202a","#3f86c8"]},"legend":null}}},
   {"mark":{"type":"rule","color":"#000","strokeWidth":2},"encoding":{"y":{"field":"lo","type":"quantitative","axis":{"values":[0,200,400,600,800],"title":null}},"y2":{"field":"hi"}}},
   {"mark":{"type":"tick","color":"#000","size":12,"thickness":2},"encoding":{"y":{"field":"hi","type":"quantitative","axis":{"values":[0,200,400,600,800],"title":null}}}},
   {"mark":{"type":"tick","color":"#000","size":12,"thickness":2},"encoding":{"y":{"field":"lo","type":"quantitative","axis":{"values":[0,200,400,600,800],"title":null}}}}
  ]},
 {"data":{"name":"brk"},"transform":[{"filter":"datum.p == 'C2'"}],"layer":[
   {"mark":{"type":"rule","color":"#3a3a3a","strokeWidth":1.5},"encoding":{"x":{"field":"x1","type":"quantitative","scale":{"domain":[-0.2,6.2],"nice":false,"zero":false},"axis":{"orient":"bottom","values":[1.5,3],"domain":false,"tickSize":56,"tickWidth":1.5,"tickColor":"#333","tickOpacity":{"condition":{"test":"datum.value == 3","value":1},"value":0},"labelExpr":"datum.value == 1.5 ? 'basal' : ''","labelBaseline":"middle","labelPadding":-28,"labelFontSize":24,"labelFlush":false,"labelOverlap":false,"title":null}},"y":{"field":"lo1","type":"quantitative","axis":{"values":[0,200,400,600,800],"title":null}},"y2":{"field":"top"}}},
   {"mark":{"type":"rule","color":"#3a3a3a","strokeWidth":1.5},"encoding":{"x":{"field":"x2","type":"quantitative","axis":{"orient":"bottom","values":[1.5,3],"domain":false,"tickSize":56,"tickWidth":1.5,"tickColor":"#333","tickOpacity":{"condition":{"test":"datum.value == 3","value":1},"value":0},"labelExpr":"datum.value == 1.5 ? 'basal' : ''","labelBaseline":"middle","labelPadding":-28,"labelFontSize":24,"labelFlush":false,"labelOverlap":false,"title":null}},"y":{"field":"lo2","type":"quantitative","axis":{"values":[0,200,400,600,800],"title":null}},"y2":{"field":"top"}}},
   {"mark":{"type":"rule","color":"#3a3a3a","strokeWidth":1.5},"encoding":{"x":{"field":"x1","type":"quantitative","axis":{"orient":"bottom","values":[1.5,3],"domain":false,"tickSize":56,"tickWidth":1.5,"tickColor":"#333","tickOpacity":{"condition":{"test":"datum.value == 3","value":1},"value":0},"labelExpr":"datum.value == 1.5 ? 'basal' : ''","labelBaseline":"middle","labelPadding":-28,"labelFontSize":24,"labelFlush":false,"labelOverlap":false,"title":null}},"x2":{"field":"x2"},"y":{"field":"top","type":"quantitative","axis":{"values":[0,200,400,600,800],"title":null}}}},
   {"transform":[{"filter":"indexof(datum.lab, '=') < 0"}],"mark":{"type":"text","fontSize":25,"baseline":"alphabetic","dy":9,"color":"#1a1a1a"},"encoding":{"x":{"field":"xm","type":"quantitative","axis":{"orient":"bottom","values":[1.5,3],"domain":false,"tickSize":56,"tickWidth":1.5,"tickColor":"#333","tickOpacity":{"condition":{"test":"datum.value == 3","value":1},"value":0},"labelExpr":"datum.value == 1.5 ? 'basal' : ''","labelBaseline":"middle","labelPadding":-28,"labelFontSize":24,"labelFlush":false,"labelOverlap":false,"title":null}},"y":{"field":"top","type":"quantitative","axis":{"values":[0,200,400,600,800],"title":null}},"text":{"field":"lab","type":"nominal"}}},
   {"data":{"name":"gl"},"transform":[{"filter":"datum.p == 'C2'"}],"mark":{"type":"rule","color":"#3a3a3a","strokeWidth":1.5},"encoding":{"x":{"field":"x1","type":"quantitative","axis":{"orient":"bottom","values":[1.5,3],"domain":false,"tickSize":56,"tickWidth":1.5,"tickColor":"#333","tickOpacity":{"condition":{"test":"datum.value == 3","value":1},"value":0},"labelExpr":"datum.value == 1.5 ? 'basal' : ''","labelBaseline":"middle","labelPadding":-28,"labelFontSize":24,"labelFlush":false,"labelOverlap":false,"title":null}},"x2":{"field":"x2"},"y":{"field":"y","type":"quantitative","axis":{"values":[0,200,400,600,800],"title":null}}}}
 ]}
]},
{"width":250,"height":187,"title":{"text":["glutamine/mal","(CI)"],"offset":39,"fontSize":26,"lineHeight":33},"resolve":{"scale":{"x":"independent"}},"layer":[
 {"data":{"name":"cbars"},"transform":[{"filter":"datum.p == 'C3'"}],
  "encoding":{"x":{"field":"c","type":"nominal","sort":["basal","ADP"],"scale":{"paddingInner":0,"paddingOuter":0.0667},"axis":{"title":null,"ticks":false,"labelExpr":"datum.value == 'ADP' ? ['ADP-', 'stimulated'] : ''","labelBaseline":"middle","labelPadding":18,"labelLineHeight":25,"labelFontSize":24}},
   "xOffset":{"field":"g","type":"nominal","sort":["WT","SFXN1 KO1","SFXN1 KO2"],"scale":{"paddingInner":0.37,"paddingOuter":0.185}}},
  "layer":[
   {"mark":{"type":"bar","strokeWidth":1.5},"encoding":{"y":{"field":"m","type":"quantitative","scale":{"domain":[0,500],"nice":false},"axis":{"values":[0,100,200,300,400,500],"title":null}},"color":{"field":"g","type":"nominal","scale":{"domain":["WT","SFXN1 KO1","SFXN1 KO2"],"range":["#000000","#e8202a","#3f86c8"]},"legend":null}}},
   {"mark":{"type":"rule","color":"#000","strokeWidth":2},"encoding":{"y":{"field":"lo","type":"quantitative","axis":{"values":[0,100,200,300,400,500],"title":null}},"y2":{"field":"hi"}}},
   {"mark":{"type":"tick","color":"#000","size":12,"thickness":2},"encoding":{"y":{"field":"hi","type":"quantitative","axis":{"values":[0,100,200,300,400,500],"title":null}}}},
   {"mark":{"type":"tick","color":"#000","size":12,"thickness":2},"encoding":{"y":{"field":"lo","type":"quantitative","axis":{"values":[0,100,200,300,400,500],"title":null}}}}
  ]},
 {"data":{"name":"brk"},"transform":[{"filter":"datum.p == 'C3'"}],"layer":[
   {"mark":{"type":"rule","color":"#3a3a3a","strokeWidth":1.5},"encoding":{"x":{"field":"x1","type":"quantitative","scale":{"domain":[-0.2,6.2],"nice":false,"zero":false},"axis":{"orient":"bottom","values":[1.5,3],"domain":false,"tickSize":56,"tickWidth":1.5,"tickColor":"#333","tickOpacity":{"condition":{"test":"datum.value == 3","value":1},"value":0},"labelExpr":"datum.value == 1.5 ? 'basal' : ''","labelBaseline":"middle","labelPadding":-28,"labelFontSize":24,"labelFlush":false,"labelOverlap":false,"title":null}},"y":{"field":"lo1","type":"quantitative","axis":{"values":[0,100,200,300,400,500],"title":null}},"y2":{"field":"top"}}},
   {"mark":{"type":"rule","color":"#3a3a3a","strokeWidth":1.5},"encoding":{"x":{"field":"x2","type":"quantitative","axis":{"orient":"bottom","values":[1.5,3],"domain":false,"tickSize":56,"tickWidth":1.5,"tickColor":"#333","tickOpacity":{"condition":{"test":"datum.value == 3","value":1},"value":0},"labelExpr":"datum.value == 1.5 ? 'basal' : ''","labelBaseline":"middle","labelPadding":-28,"labelFontSize":24,"labelFlush":false,"labelOverlap":false,"title":null}},"y":{"field":"lo2","type":"quantitative","axis":{"values":[0,100,200,300,400,500],"title":null}},"y2":{"field":"top"}}},
   {"mark":{"type":"rule","color":"#3a3a3a","strokeWidth":1.5},"encoding":{"x":{"field":"x1","type":"quantitative","axis":{"orient":"bottom","values":[1.5,3],"domain":false,"tickSize":56,"tickWidth":1.5,"tickColor":"#333","tickOpacity":{"condition":{"test":"datum.value == 3","value":1},"value":0},"labelExpr":"datum.value == 1.5 ? 'basal' : ''","labelBaseline":"middle","labelPadding":-28,"labelFontSize":24,"labelFlush":false,"labelOverlap":false,"title":null}},"x2":{"field":"x2"},"y":{"field":"top","type":"quantitative","axis":{"values":[0,100,200,300,400,500],"title":null}}}},
   {"transform":[{"filter":"indexof(datum.lab, '=') < 0"}],"mark":{"type":"text","fontSize":25,"baseline":"alphabetic","dy":9,"color":"#1a1a1a"},"encoding":{"x":{"field":"xm","type":"quantitative","axis":{"orient":"bottom","values":[1.5,3],"domain":false,"tickSize":56,"tickWidth":1.5,"tickColor":"#333","tickOpacity":{"condition":{"test":"datum.value == 3","value":1},"value":0},"labelExpr":"datum.value == 1.5 ? 'basal' : ''","labelBaseline":"middle","labelPadding":-28,"labelFontSize":24,"labelFlush":false,"labelOverlap":false,"title":null}},"y":{"field":"top","type":"quantitative","axis":{"values":[0,100,200,300,400,500],"title":null}},"text":{"field":"lab","type":"nominal"}}}
 ]}
]},
{"width":250,"height":187,"title":{"text":["DMK/mal","(CI)"],"offset":16.5,"fontSize":26,"lineHeight":33},"resolve":{"scale":{"x":"independent"}},"layer":[
 {"data":{"name":"cbars"},"transform":[{"filter":"datum.p == 'C4'"}],
  "encoding":{"x":{"field":"c","type":"nominal","sort":["basal","ADP"],"scale":{"paddingInner":0,"paddingOuter":0.0667},"axis":{"title":null,"ticks":false,"labelExpr":"datum.value == 'ADP' ? ['ADP-', 'stimulated'] : ''","labelBaseline":"middle","labelPadding":18,"labelLineHeight":25,"labelFontSize":24}},
   "xOffset":{"field":"g","type":"nominal","sort":["WT","SFXN1 KO1","SFXN1 KO2"],"scale":{"paddingInner":0.37,"paddingOuter":0.185}}},
  "layer":[
   {"mark":{"type":"bar","strokeWidth":1.5},"encoding":{"y":{"field":"m","type":"quantitative","scale":{"domain":[0,400],"nice":false},"axis":{"values":[0,100,200,300,400],"title":null}},"color":{"field":"g","type":"nominal","scale":{"domain":["WT","SFXN1 KO1","SFXN1 KO2"],"range":["#000000","#e8202a","#3f86c8"]},"legend":null}}},
   {"mark":{"type":"rule","color":"#000","strokeWidth":2},"encoding":{"y":{"field":"lo","type":"quantitative","axis":{"values":[0,100,200,300,400],"title":null}},"y2":{"field":"hi"}}},
   {"mark":{"type":"tick","color":"#000","size":12,"thickness":2},"encoding":{"y":{"field":"hi","type":"quantitative","axis":{"values":[0,100,200,300,400],"title":null}}}},
   {"mark":{"type":"tick","color":"#000","size":12,"thickness":2},"encoding":{"y":{"field":"lo","type":"quantitative","axis":{"values":[0,100,200,300,400],"title":null}}}}
  ]},
 {"data":{"name":"brk"},"transform":[{"filter":"datum.p == 'C4'"}],"layer":[
   {"mark":{"type":"rule","color":"#3a3a3a","strokeWidth":1.5},"encoding":{"x":{"field":"x1","type":"quantitative","scale":{"domain":[-0.2,6.2],"nice":false,"zero":false},"axis":{"orient":"bottom","values":[1.5,3],"domain":false,"tickSize":56,"tickWidth":1.5,"tickColor":"#333","tickOpacity":{"condition":{"test":"datum.value == 3","value":1},"value":0},"labelExpr":"datum.value == 1.5 ? 'basal' : ''","labelBaseline":"middle","labelPadding":-28,"labelFontSize":24,"labelFlush":false,"labelOverlap":false,"title":null}},"y":{"field":"lo1","type":"quantitative","axis":{"values":[0,100,200,300,400],"title":null}},"y2":{"field":"top"}}},
   {"mark":{"type":"rule","color":"#3a3a3a","strokeWidth":1.5},"encoding":{"x":{"field":"x2","type":"quantitative","axis":{"orient":"bottom","values":[1.5,3],"domain":false,"tickSize":56,"tickWidth":1.5,"tickColor":"#333","tickOpacity":{"condition":{"test":"datum.value == 3","value":1},"value":0},"labelExpr":"datum.value == 1.5 ? 'basal' : ''","labelBaseline":"middle","labelPadding":-28,"labelFontSize":24,"labelFlush":false,"labelOverlap":false,"title":null}},"y":{"field":"lo2","type":"quantitative","axis":{"values":[0,100,200,300,400],"title":null}},"y2":{"field":"top"}}},
   {"mark":{"type":"rule","color":"#3a3a3a","strokeWidth":1.5},"encoding":{"x":{"field":"x1","type":"quantitative","axis":{"orient":"bottom","values":[1.5,3],"domain":false,"tickSize":56,"tickWidth":1.5,"tickColor":"#333","tickOpacity":{"condition":{"test":"datum.value == 3","value":1},"value":0},"labelExpr":"datum.value == 1.5 ? 'basal' : ''","labelBaseline":"middle","labelPadding":-28,"labelFontSize":24,"labelFlush":false,"labelOverlap":false,"title":null}},"x2":{"field":"x2"},"y":{"field":"top","type":"quantitative","axis":{"values":[0,100,200,300,400],"title":null}}}},
   {"transform":[{"filter":"indexof(datum.lab, '=') < 0"}],"mark":{"type":"text","fontSize":25,"baseline":"alphabetic","dy":9,"color":"#1a1a1a"},"encoding":{"x":{"field":"xm","type":"quantitative","axis":{"orient":"bottom","values":[1.5,3],"domain":false,"tickSize":56,"tickWidth":1.5,"tickColor":"#333","tickOpacity":{"condition":{"test":"datum.value == 3","value":1},"value":0},"labelExpr":"datum.value == 1.5 ? 'basal' : ''","labelBaseline":"middle","labelPadding":-28,"labelFontSize":24,"labelFlush":false,"labelOverlap":false,"title":null}},"y":{"field":"top","type":"quantitative","axis":{"values":[0,100,200,300,400],"title":null}},"text":{"field":"lab","type":"nominal"}}},
   {"data":{"name":"gl"},"transform":[{"filter":"datum.p == 'C4'"}],"mark":{"type":"rule","color":"#3a3a3a","strokeWidth":1.5},"encoding":{"x":{"field":"x1","type":"quantitative","axis":{"orient":"bottom","values":[1.5,3],"domain":false,"tickSize":56,"tickWidth":1.5,"tickColor":"#333","tickOpacity":{"condition":{"test":"datum.value == 3","value":1},"value":0},"labelExpr":"datum.value == 1.5 ? 'basal' : ''","labelBaseline":"middle","labelPadding":-28,"labelFontSize":24,"labelFlush":false,"labelOverlap":false,"title":null}},"x2":{"field":"x2"},"y":{"field":"y","type":"quantitative","axis":{"values":[0,100,200,300,400],"title":null}}}}
 ]}
]}
]},
{"bounds":"flush","spacing":75,"resolve":{"scale":{"color":"independent"}},"hconcat":[
{"width":250,"height":187,"title":{"text":["succinate/rot","(CII)"],"offset":42,"fontSize":26,"lineHeight":33},"resolve":{"scale":{"x":"independent"}},"layer":[
 {"data":{"name":"cbars"},"transform":[{"filter":"datum.p == 'C5'"}],
  "encoding":{"x":{"field":"c","type":"nominal","sort":["basal","ADP"],"scale":{"paddingInner":0,"paddingOuter":0.0667},"axis":{"title":null,"ticks":false,"labelExpr":"datum.value == 'ADP' ? ['ADP-', 'stimulated'] : ''","labelBaseline":"middle","labelPadding":18,"labelLineHeight":25,"labelFontSize":24}},
   "xOffset":{"field":"g","type":"nominal","sort":["WT","SFXN1 KO1","SFXN1 KO2"],"scale":{"paddingInner":0.37,"paddingOuter":0.185}}},
  "layer":[
   {"mark":{"type":"bar","strokeWidth":1.5},"encoding":{"y":{"field":"m","type":"quantitative","scale":{"domain":[0,500],"nice":false},"axis":{"values":[0,100,200,300,400,500],"title":["OCR","(pmol/min)"]}},"color":{"field":"g","type":"nominal","scale":{"domain":["WT","SFXN1 KO1","SFXN1 KO2"],"range":["#000000","#e8202a","#3f86c8"]},"legend":null}}},
   {"mark":{"type":"rule","color":"#000","strokeWidth":2},"encoding":{"y":{"field":"lo","type":"quantitative","axis":{"values":[0,100,200,300,400,500],"title":["OCR","(pmol/min)"]}},"y2":{"field":"hi"}}},
   {"mark":{"type":"tick","color":"#000","size":12,"thickness":2},"encoding":{"y":{"field":"hi","type":"quantitative","axis":{"values":[0,100,200,300,400,500],"title":["OCR","(pmol/min)"]}}}},
   {"mark":{"type":"tick","color":"#000","size":12,"thickness":2},"encoding":{"y":{"field":"lo","type":"quantitative","axis":{"values":[0,100,200,300,400,500],"title":["OCR","(pmol/min)"]}}}}
  ]},
 {"data":{"name":"brk"},"transform":[{"filter":"datum.p == 'C5'"}],"layer":[
   {"mark":{"type":"rule","color":"#3a3a3a","strokeWidth":1.5},"encoding":{"x":{"field":"x1","type":"quantitative","scale":{"domain":[-0.2,6.2],"nice":false,"zero":false},"axis":{"orient":"bottom","values":[1.5,3],"domain":false,"tickSize":56,"tickWidth":1.5,"tickColor":"#333","tickOpacity":{"condition":{"test":"datum.value == 3","value":1},"value":0},"labelExpr":"datum.value == 1.5 ? 'basal' : ''","labelBaseline":"middle","labelPadding":-28,"labelFontSize":24,"labelFlush":false,"labelOverlap":false,"title":null}},"y":{"field":"lo1","type":"quantitative","axis":{"values":[0,100,200,300,400,500],"title":["OCR","(pmol/min)"]}},"y2":{"field":"top"}}},
   {"mark":{"type":"rule","color":"#3a3a3a","strokeWidth":1.5},"encoding":{"x":{"field":"x2","type":"quantitative","axis":{"orient":"bottom","values":[1.5,3],"domain":false,"tickSize":56,"tickWidth":1.5,"tickColor":"#333","tickOpacity":{"condition":{"test":"datum.value == 3","value":1},"value":0},"labelExpr":"datum.value == 1.5 ? 'basal' : ''","labelBaseline":"middle","labelPadding":-28,"labelFontSize":24,"labelFlush":false,"labelOverlap":false,"title":null}},"y":{"field":"lo2","type":"quantitative","axis":{"values":[0,100,200,300,400,500],"title":["OCR","(pmol/min)"]}},"y2":{"field":"top"}}},
   {"mark":{"type":"rule","color":"#3a3a3a","strokeWidth":1.5},"encoding":{"x":{"field":"x1","type":"quantitative","axis":{"orient":"bottom","values":[1.5,3],"domain":false,"tickSize":56,"tickWidth":1.5,"tickColor":"#333","tickOpacity":{"condition":{"test":"datum.value == 3","value":1},"value":0},"labelExpr":"datum.value == 1.5 ? 'basal' : ''","labelBaseline":"middle","labelPadding":-28,"labelFontSize":24,"labelFlush":false,"labelOverlap":false,"title":null}},"x2":{"field":"x2"},"y":{"field":"top","type":"quantitative","axis":{"values":[0,100,200,300,400,500],"title":["OCR","(pmol/min)"]}}}},
   {"transform":[{"filter":"indexof(datum.lab, '=') < 0"}],"mark":{"type":"text","fontSize":25,"baseline":"alphabetic","dy":9,"color":"#1a1a1a"},"encoding":{"x":{"field":"xm","type":"quantitative","axis":{"orient":"bottom","values":[1.5,3],"domain":false,"tickSize":56,"tickWidth":1.5,"tickColor":"#333","tickOpacity":{"condition":{"test":"datum.value == 3","value":1},"value":0},"labelExpr":"datum.value == 1.5 ? 'basal' : ''","labelBaseline":"middle","labelPadding":-28,"labelFontSize":24,"labelFlush":false,"labelOverlap":false,"title":null}},"y":{"field":"top","type":"quantitative","axis":{"values":[0,100,200,300,400,500],"title":["OCR","(pmol/min)"]}},"text":{"field":"lab","type":"nominal"}}},
   {"data":{"name":"gl"},"transform":[{"filter":"datum.p == 'C5'"}],"mark":{"type":"rule","color":"#3a3a3a","strokeWidth":1.5},"encoding":{"x":{"field":"x1","type":"quantitative","axis":{"orient":"bottom","values":[1.5,3],"domain":false,"tickSize":56,"tickWidth":1.5,"tickColor":"#333","tickOpacity":{"condition":{"test":"datum.value == 3","value":1},"value":0},"labelExpr":"datum.value == 1.5 ? 'basal' : ''","labelBaseline":"middle","labelPadding":-28,"labelFontSize":24,"labelFlush":false,"labelOverlap":false,"title":null}},"x2":{"field":"x2"},"y":{"field":"y","type":"quantitative","axis":{"values":[0,100,200,300,400,500],"title":["OCR","(pmol/min)"]}}}}
 ]}
]},
{"width":250,"height":187,"title":{"text":["G3P/rot","(CIII)"],"offset":32,"fontSize":26,"lineHeight":33},"resolve":{"scale":{"x":"independent"}},"layer":[
 {"data":{"name":"cbars"},"transform":[{"filter":"datum.p == 'C6'"}],
  "encoding":{"x":{"field":"c","type":"nominal","sort":["basal","ADP"],"scale":{"paddingInner":0,"paddingOuter":0.0667},"axis":{"title":null,"ticks":false,"labelExpr":"datum.value == 'ADP' ? ['ADP-', 'stimulated'] : ''","labelBaseline":"middle","labelPadding":18,"labelLineHeight":25,"labelFontSize":24}},
   "xOffset":{"field":"g","type":"nominal","sort":["WT","SFXN1 KO1","SFXN1 KO2"],"scale":{"paddingInner":0.37,"paddingOuter":0.185}}},
  "layer":[
   {"mark":{"type":"bar","strokeWidth":1.5},"encoding":{"y":{"field":"m","type":"quantitative","scale":{"domain":[0,300],"nice":false},"axis":{"values":[0,100,200,300],"title":null}},"color":{"field":"g","type":"nominal","scale":{"domain":["WT","SFXN1 KO1","SFXN1 KO2"],"range":["#000000","#e8202a","#3f86c8"]},"legend":null}}},
   {"mark":{"type":"rule","color":"#000","strokeWidth":2},"encoding":{"y":{"field":"lo","type":"quantitative","axis":{"values":[0,100,200,300],"title":null}},"y2":{"field":"hi"}}},
   {"mark":{"type":"tick","color":"#000","size":12,"thickness":2},"encoding":{"y":{"field":"hi","type":"quantitative","axis":{"values":[0,100,200,300],"title":null}}}},
   {"mark":{"type":"tick","color":"#000","size":12,"thickness":2},"encoding":{"y":{"field":"lo","type":"quantitative","axis":{"values":[0,100,200,300],"title":null}}}}
  ]},
 {"data":{"name":"brk"},"transform":[{"filter":"datum.p == 'C6'"}],"layer":[
   {"mark":{"type":"rule","color":"#3a3a3a","strokeWidth":1.5},"encoding":{"x":{"field":"x1","type":"quantitative","scale":{"domain":[-0.2,6.2],"nice":false,"zero":false},"axis":{"orient":"bottom","values":[1.5,3],"domain":false,"tickSize":56,"tickWidth":1.5,"tickColor":"#333","tickOpacity":{"condition":{"test":"datum.value == 3","value":1},"value":0},"labelExpr":"datum.value == 1.5 ? 'basal' : ''","labelBaseline":"middle","labelPadding":-28,"labelFontSize":24,"labelFlush":false,"labelOverlap":false,"title":null}},"y":{"field":"lo1","type":"quantitative","axis":{"values":[0,100,200,300],"title":null}},"y2":{"field":"top"}}},
   {"mark":{"type":"rule","color":"#3a3a3a","strokeWidth":1.5},"encoding":{"x":{"field":"x2","type":"quantitative","axis":{"orient":"bottom","values":[1.5,3],"domain":false,"tickSize":56,"tickWidth":1.5,"tickColor":"#333","tickOpacity":{"condition":{"test":"datum.value == 3","value":1},"value":0},"labelExpr":"datum.value == 1.5 ? 'basal' : ''","labelBaseline":"middle","labelPadding":-28,"labelFontSize":24,"labelFlush":false,"labelOverlap":false,"title":null}},"y":{"field":"lo2","type":"quantitative","axis":{"values":[0,100,200,300],"title":null}},"y2":{"field":"top"}}},
   {"mark":{"type":"rule","color":"#3a3a3a","strokeWidth":1.5},"encoding":{"x":{"field":"x1","type":"quantitative","axis":{"orient":"bottom","values":[1.5,3],"domain":false,"tickSize":56,"tickWidth":1.5,"tickColor":"#333","tickOpacity":{"condition":{"test":"datum.value == 3","value":1},"value":0},"labelExpr":"datum.value == 1.5 ? 'basal' : ''","labelBaseline":"middle","labelPadding":-28,"labelFontSize":24,"labelFlush":false,"labelOverlap":false,"title":null}},"x2":{"field":"x2"},"y":{"field":"top","type":"quantitative","axis":{"values":[0,100,200,300],"title":null}}}},
   {"transform":[{"filter":"indexof(datum.lab, '=') < 0"}],"mark":{"type":"text","fontSize":25,"baseline":"alphabetic","dy":9,"color":"#1a1a1a"},"encoding":{"x":{"field":"xm","type":"quantitative","axis":{"orient":"bottom","values":[1.5,3],"domain":false,"tickSize":56,"tickWidth":1.5,"tickColor":"#333","tickOpacity":{"condition":{"test":"datum.value == 3","value":1},"value":0},"labelExpr":"datum.value == 1.5 ? 'basal' : ''","labelBaseline":"middle","labelPadding":-28,"labelFontSize":24,"labelFlush":false,"labelOverlap":false,"title":null}},"y":{"field":"top","type":"quantitative","axis":{"values":[0,100,200,300],"title":null}},"text":{"field":"lab","type":"nominal"}}}
 ]}
]},
{"width":250,"height":187,"title":{"text":"palmitoylcarnitine","offset":65,"fontSize":26},"resolve":{"scale":{"x":"independent"}},"layer":[
 {"data":{"name":"cbars"},"transform":[{"filter":"datum.p == 'C7'"}],
  "encoding":{"x":{"field":"c","type":"nominal","sort":["basal","ADP"],"scale":{"paddingInner":0,"paddingOuter":0.0667},"axis":{"title":null,"ticks":false,"labelExpr":"datum.value == 'ADP' ? ['ADP-', 'stimulated'] : ''","labelBaseline":"middle","labelPadding":18,"labelLineHeight":25,"labelFontSize":24}},
   "xOffset":{"field":"g","type":"nominal","sort":["WT","SFXN1 KO1","SFXN1 KO2"],"scale":{"paddingInner":0.37,"paddingOuter":0.185}}},
  "layer":[
   {"mark":{"type":"bar","strokeWidth":1.5},"encoding":{"y":{"field":"m","type":"quantitative","scale":{"domain":[0,300],"nice":false},"axis":{"values":[0,100,200,300],"title":null}},"color":{"field":"g","type":"nominal","scale":{"domain":["WT","SFXN1 KO1","SFXN1 KO2"],"range":["#000000","#e8202a","#3f86c8"]},"legend":{"orient":"none","legendX":340,"legendY":-16,"title":null,"symbolType":"M-1.6,-1H1.6V1H-1.6Z","symbolSize":400,"symbolStrokeColor":"#000","symbolStrokeWidth":1.5,"symbolOpacity":1,"labelFontSize":23,"labelColor":"#1a1a1a","rowPadding":2,"labelOffset":8}}}},
   {"mark":{"type":"rule","color":"#000","strokeWidth":2},"encoding":{"y":{"field":"lo","type":"quantitative","axis":{"values":[0,100,200,300],"title":null}},"y2":{"field":"hi"}}},
   {"mark":{"type":"tick","color":"#000","size":12,"thickness":2},"encoding":{"y":{"field":"hi","type":"quantitative","axis":{"values":[0,100,200,300],"title":null}}}},
   {"mark":{"type":"tick","color":"#000","size":12,"thickness":2},"encoding":{"y":{"field":"lo","type":"quantitative","axis":{"values":[0,100,200,300],"title":null}}}}
  ]},
 {"data":{"name":"brk"},"transform":[{"filter":"datum.p == 'C7'"}],"layer":[
   {"mark":{"type":"rule","color":"#3a3a3a","strokeWidth":1.5},"encoding":{"x":{"field":"x1","type":"quantitative","scale":{"domain":[-0.2,6.2],"nice":false,"zero":false},"axis":{"orient":"bottom","values":[1.5,3],"domain":false,"tickSize":56,"tickWidth":1.5,"tickColor":"#333","tickOpacity":{"condition":{"test":"datum.value == 3","value":1},"value":0},"labelExpr":"datum.value == 1.5 ? 'basal' : ''","labelBaseline":"middle","labelPadding":-28,"labelFontSize":24,"labelFlush":false,"labelOverlap":false,"title":null}},"y":{"field":"lo1","type":"quantitative","axis":{"values":[0,100,200,300],"title":null}},"y2":{"field":"top"}}},
   {"mark":{"type":"rule","color":"#3a3a3a","strokeWidth":1.5},"encoding":{"x":{"field":"x2","type":"quantitative","axis":{"orient":"bottom","values":[1.5,3],"domain":false,"tickSize":56,"tickWidth":1.5,"tickColor":"#333","tickOpacity":{"condition":{"test":"datum.value == 3","value":1},"value":0},"labelExpr":"datum.value == 1.5 ? 'basal' : ''","labelBaseline":"middle","labelPadding":-28,"labelFontSize":24,"labelFlush":false,"labelOverlap":false,"title":null}},"y":{"field":"lo2","type":"quantitative","axis":{"values":[0,100,200,300],"title":null}},"y2":{"field":"top"}}},
   {"mark":{"type":"rule","color":"#3a3a3a","strokeWidth":1.5},"encoding":{"x":{"field":"x1","type":"quantitative","axis":{"orient":"bottom","values":[1.5,3],"domain":false,"tickSize":56,"tickWidth":1.5,"tickColor":"#333","tickOpacity":{"condition":{"test":"datum.value == 3","value":1},"value":0},"labelExpr":"datum.value == 1.5 ? 'basal' : ''","labelBaseline":"middle","labelPadding":-28,"labelFontSize":24,"labelFlush":false,"labelOverlap":false,"title":null}},"x2":{"field":"x2"},"y":{"field":"top","type":"quantitative","axis":{"values":[0,100,200,300],"title":null}}}},
   {"transform":[{"filter":"indexof(datum.lab, '=') < 0"}],"mark":{"type":"text","fontSize":25,"baseline":"alphabetic","dy":9,"color":"#1a1a1a"},"encoding":{"x":{"field":"xm","type":"quantitative","axis":{"orient":"bottom","values":[1.5,3],"domain":false,"tickSize":56,"tickWidth":1.5,"tickColor":"#333","tickOpacity":{"condition":{"test":"datum.value == 3","value":1},"value":0},"labelExpr":"datum.value == 1.5 ? 'basal' : ''","labelBaseline":"middle","labelPadding":-28,"labelFontSize":24,"labelFlush":false,"labelOverlap":false,"title":null}},"y":{"field":"top","type":"quantitative","axis":{"values":[0,100,200,300],"title":null}},"text":{"field":"lab","type":"nominal"}}},
   {"data":{"name":"gl"},"transform":[{"filter":"datum.p == 'C7'"}],"mark":{"type":"rule","color":"#3a3a3a","strokeWidth":1.5},"encoding":{"x":{"field":"x1","type":"quantitative","axis":{"orient":"bottom","values":[1.5,3],"domain":false,"tickSize":56,"tickWidth":1.5,"tickColor":"#333","tickOpacity":{"condition":{"test":"datum.value == 3","value":1},"value":0},"labelExpr":"datum.value == 1.5 ? 'basal' : ''","labelBaseline":"middle","labelPadding":-28,"labelFontSize":24,"labelFlush":false,"labelOverlap":false,"title":null}},"x2":{"field":"x2"},"y":{"field":"y","type":"quantitative","axis":{"values":[0,100,200,300],"title":null}}}}
 ]}
]}
]}
]
}]
}
]},
{"spacing": 20, "vconcat": [
{"width":10,"height":809,"data":{"values":[]},"mark":{"type":"point","opacity":0}},
{
"title": {"text":"D","anchor":"start","frame":"bounds","fontSize":40,"fontWeight":"bold","color":"#000","offset":-41,"dx":-26},
"vconcat": [{
"title": {"text":"Fuel utilization","anchor":"middle","frame":"bounds","fontSize":30,"offset":31,"dx":38},
"bounds": "flush", "spacing": 0,
"hconcat": [
{"width":121,"height":251,"resolve":{"scale":{"x":"independent"}},"layer":[
 {"encoding":{"x":{"field":"g","type":"nominal","sort":["WT","1","2"],"scale":{"paddingInner":0.375,"paddingOuter":0.1875},"axis":{"title":null,"labelPadding":3}}},
  "layer":[
   {"data":{"name":"bars"},"transform":[{"filter":"datum.p == 'Gln'"}],"mark":{"type":"bar"},"encoding":{"y":{"field":"m","type":"quantitative","scale":{"domain":[0,75],"nice":false},"axis":{"values":[0,25,50,75],"title":"% Dependence"}},"fill":{"condition":{"test":"datum.g == 'WT'","value":"#c6c6c6"},"value":"#ef3a26"}}},
   {"data":{"name":"bars"},"transform":[{"filter":"datum.p == 'Gln'"}],"mark":{"type":"rule","color":"#000","strokeWidth":2},"encoding":{"y":{"field":"lo","type":"quantitative","axis":{"values":[0,25,50,75],"title":"% Dependence"}},"y2":{"field":"hi"}}},
   {"data":{"name":"bars"},"transform":[{"filter":"datum.p == 'Gln'"}],"mark":{"type":"tick","color":"#000","size":13,"thickness":2},"encoding":{"y":{"field":"hi","type":"quantitative","axis":{"values":[0,25,50,75],"title":"% Dependence"}}}},
   {"data":{"name":"bars"},"transform":[{"filter":"datum.p == 'Gln'"}],"mark":{"type":"tick","color":"#000","size":13,"thickness":2},"encoding":{"y":{"field":"lo","type":"quantitative","axis":{"values":[0,25,50,75],"title":"% Dependence"}}}},
   {"data":{"name":"pts"},"transform":[{"filter":"datum.p == 'Gln'"}],"mark":{"type":"circle","size":36,"color":"#000","opacity":1},"encoding":{"y":{"field":"v","type":"quantitative","axis":{"values":[0,25,50,75],"title":"% Dependence"}}}}
  ]},
 {"data":{"name":"ko"},"mark":{"type":"point","opacity":0,"size":1},"encoding":{"y":{"datum":0,"type":"quantitative","axis":{"values":[0,25,50,75],"title":"% Dependence"}},"x":{"field":"k","type":"nominal","scale":{"range":[51,120],"paddingInner":0,"paddingOuter":0},"axis":{"orient":"bottom","offset":37,"ticks":false,"domainColor":"#555","domainWidth":2,"labelFontStyle":"italic","labelExpr":"['SFXN1', 'KO']","labelLineHeight":27,"labelPadding":5,"labelFontSize":22,"title":null}}}},
 {"data":{"name":"fuel"},"transform":[{"filter":"datum.f == 'Gln'"}],"mark":{"type":"point","opacity":0,"size":1},"encoding":{"y":{"datum":0,"type":"quantitative","axis":{"values":[0,25,50,75],"title":"% Dependence"}},"x":{"field":"f","type":"nominal","scale":{"range":[3,117],"paddingInner":0,"paddingOuter":0},"axis":{"orient":"bottom","offset":105,"tickBand":"extent","tickSize":-9,"tickColor":"#333","tickWidth":2,"domainColor":"#333","domainWidth":2,"labelPadding":9,"labelFontSize":22,"title":null}}}}
]},
{"width":121,"height":251,"resolve":{"scale":{"x":"independent"}},"layer":[
 {"encoding":{"x":{"field":"g","type":"nominal","sort":["WT","1","2"],"scale":{"paddingInner":0.375,"paddingOuter":0.1875},"axis":{"title":null,"labelPadding":3}}},
  "layer":[
   {"data":{"name":"bars"},"transform":[{"filter":"datum.p == 'Glu'"}],"mark":{"type":"bar"},"encoding":{"y":{"field":"m","type":"quantitative","scale":{"domain":[0,75],"nice":false},"axis":null},"fill":{"condition":{"test":"datum.g == 'WT'","value":"#c6c6c6"},"value":"#ef3a26"}}},
   {"data":{"name":"bars"},"transform":[{"filter":"datum.p == 'Glu'"}],"mark":{"type":"rule","color":"#000","strokeWidth":2},"encoding":{"y":{"field":"lo","type":"quantitative","axis":null},"y2":{"field":"hi"}}},
   {"data":{"name":"bars"},"transform":[{"filter":"datum.p == 'Glu'"}],"mark":{"type":"tick","color":"#000","size":13,"thickness":2},"encoding":{"y":{"field":"hi","type":"quantitative","axis":null}}},
   {"data":{"name":"bars"},"transform":[{"filter":"datum.p == 'Glu'"}],"mark":{"type":"tick","color":"#000","size":13,"thickness":2},"encoding":{"y":{"field":"lo","type":"quantitative","axis":null}}},
   {"data":{"name":"pts"},"transform":[{"filter":"datum.p == 'Glu'"}],"mark":{"type":"circle","size":36,"color":"#000","opacity":1},"encoding":{"y":{"field":"v","type":"quantitative","axis":null}}}
  ]},
 {"data":{"name":"ko"},"mark":{"type":"point","opacity":0,"size":1},"encoding":{"y":{"datum":0,"type":"quantitative","axis":null},"x":{"field":"k","type":"nominal","scale":{"range":[51,120],"paddingInner":0,"paddingOuter":0},"axis":{"orient":"bottom","offset":37,"ticks":false,"domainColor":"#555","domainWidth":2,"labelFontStyle":"italic","labelExpr":"['SFXN1', 'KO']","labelLineHeight":27,"labelPadding":5,"labelFontSize":22,"title":null}}}},
 {"data":{"name":"fuel"},"transform":[{"filter":"datum.f == 'Glu'"}],"mark":{"type":"point","opacity":0,"size":1},"encoding":{"y":{"datum":0,"type":"quantitative","axis":null},"x":{"field":"f","type":"nominal","scale":{"range":[3,117],"paddingInner":0,"paddingOuter":0},"axis":{"orient":"bottom","offset":105,"tickBand":"extent","tickSize":-9,"tickColor":"#333","tickWidth":2,"domainColor":"#333","domainWidth":2,"labelPadding":9,"labelFontSize":22,"title":null}}}},
 {"data":{"name":"brk"},"transform":[{"filter":"datum.p == 'Glu'"}],"layer":[
   {"mark":{"type":"rule","color":"#3a3a3a","strokeWidth":1.5},"encoding":{"x":{"field":"x1","type":"quantitative","scale":{"domain":[0,3],"nice":false,"zero":false},"axis":null},"y":{"field":"lo1","type":"quantitative","axis":null},"y2":{"field":"top"}}},
   {"mark":{"type":"rule","color":"#3a3a3a","strokeWidth":1.5},"encoding":{"x":{"field":"x2","type":"quantitative","axis":null},"y":{"field":"lo2","type":"quantitative","axis":null},"y2":{"field":"top"}}},
   {"mark":{"type":"rule","color":"#3a3a3a","strokeWidth":1.5},"encoding":{"x":{"field":"x1","type":"quantitative","axis":null},"x2":{"field":"x2"},"y":{"field":"top","type":"quantitative","axis":null}}},
   {"transform":[{"filter":"indexof(datum.lab, '=') < 0"}],"mark":{"type":"text","fontSize":25,"baseline":"alphabetic","dy":9,"color":"#1a1a1a"},"encoding":{"x":{"field":"xm","type":"quantitative","axis":null},"y":{"field":"top","type":"quantitative","axis":null},"text":{"field":"lab","type":"nominal"}}},
   {"transform":[{"filter":"indexof(datum.lab, '=') >= 0"}],"mark":{"type":"text","fontSize":25,"fontStyle":"italic","baseline":"alphabetic","dy":-12,"color":"#1a1a1a"},"encoding":{"x":{"field":"xm","type":"quantitative","axis":null},"y":{"field":"top","type":"quantitative","axis":null},"text":{"field":"lab","type":"nominal"}}}
 ]}
]},
{"width":121,"height":251,"resolve":{"scale":{"x":"independent"}},"layer":[
 {"encoding":{"x":{"field":"g","type":"nominal","sort":["WT","1","2"],"scale":{"paddingInner":0.375,"paddingOuter":0.1875},"axis":{"title":null,"labelPadding":3}}},
  "layer":[
   {"data":{"name":"bars"},"transform":[{"filter":"datum.p == 'FA'"}],"mark":{"type":"bar"},"encoding":{"y":{"field":"m","type":"quantitative","scale":{"domain":[0,75],"nice":false},"axis":null},"fill":{"condition":{"test":"datum.g == 'WT'","value":"#c6c6c6"},"value":"#ef3a26"}}},
   {"data":{"name":"bars"},"transform":[{"filter":"datum.p == 'FA'"}],"mark":{"type":"rule","color":"#000","strokeWidth":2},"encoding":{"y":{"field":"lo","type":"quantitative","axis":null},"y2":{"field":"hi"}}},
   {"data":{"name":"bars"},"transform":[{"filter":"datum.p == 'FA'"}],"mark":{"type":"tick","color":"#000","size":13,"thickness":2},"encoding":{"y":{"field":"hi","type":"quantitative","axis":null}}},
   {"data":{"name":"bars"},"transform":[{"filter":"datum.p == 'FA'"}],"mark":{"type":"tick","color":"#000","size":13,"thickness":2},"encoding":{"y":{"field":"lo","type":"quantitative","axis":null}}},
   {"data":{"name":"pts"},"transform":[{"filter":"datum.p == 'FA'"}],"mark":{"type":"circle","size":36,"color":"#000","opacity":1},"encoding":{"y":{"field":"v","type":"quantitative","axis":null}}}
  ]},
 {"data":{"name":"ko"},"mark":{"type":"point","opacity":0,"size":1},"encoding":{"y":{"datum":0,"type":"quantitative","axis":null},"x":{"field":"k","type":"nominal","scale":{"range":[51,120],"paddingInner":0,"paddingOuter":0},"axis":{"orient":"bottom","offset":37,"ticks":false,"domainColor":"#555","domainWidth":2,"labelFontStyle":"italic","labelExpr":"['SFXN1', 'KO']","labelLineHeight":27,"labelPadding":5,"labelFontSize":22,"title":null}}}},
 {"data":{"name":"fuel"},"transform":[{"filter":"datum.f == 'FA'"}],"mark":{"type":"point","opacity":0,"size":1},"encoding":{"y":{"datum":0,"type":"quantitative","axis":null},"x":{"field":"f","type":"nominal","scale":{"range":[3,117],"paddingInner":0,"paddingOuter":0},"axis":{"orient":"bottom","offset":105,"tickBand":"extent","tickSize":-9,"tickColor":"#333","tickWidth":2,"domainColor":"#333","domainWidth":2,"labelPadding":9,"labelFontSize":22,"title":null}}}}
]}
]
}]
}
]}
],
"config": {
"font": "Liberation Sans",
"view": {"stroke": null},
"axis": {"grid": false, "domainColor": "#000", "domainWidth": 2, "tickColor": "#000", "tickWidth": 2, "labelColor": "#1a1a1a", "titleColor": "#1a1a1a", "titleFontWeight": "normal", "titleFontSize": 24, "labelFontSize": 21},
"axisX": {"labelAngle": 0, "labelFontSize": 23, "tickSize": 7, "labelPadding": 3},
"axisY": {"tickSize": 7, "labelPadding": 3, "titlePadding": 10, "titleLineHeight": 25},
"title": {"fontWeight": "normal", "fontSize": 23, "color": "#1a1a1a", "frame": "group"},
"bar": {"stroke": "#000", "strokeWidth": 2}
}
}
